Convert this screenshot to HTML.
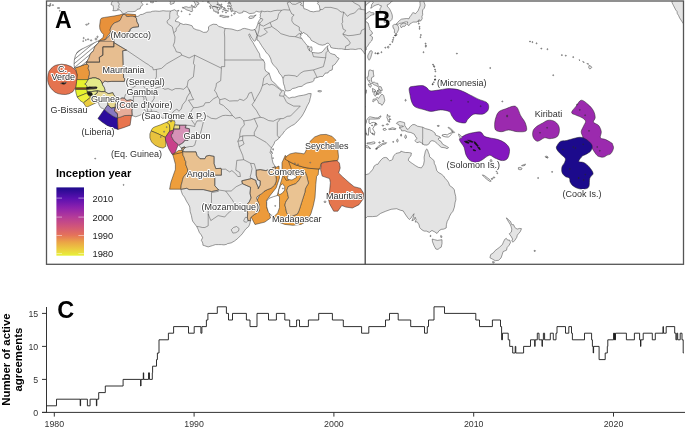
<!DOCTYPE html>
<html><head><meta charset="utf-8"><style>
html,body{margin:0;padding:0;background:#fff;}
body{-webkit-font-smoothing:antialiased;width:685px;height:429px;overflow:hidden;position:relative;font-family:"Liberation Sans",sans-serif;}
svg{position:absolute;left:0;top:0;will-change:transform;}
text{opacity:0.995;}
.lbl{font-family:"Liberation Sans",sans-serif;font-size:9px;fill:#303030;paint-order:stroke;stroke:#fff;stroke-width:2px;stroke-linejoin:round;}
</style></head><body>
<svg width="685" height="429" viewBox="0 0 685 429">
<defs>
<pattern id="hatch" patternUnits="userSpaceOnUse" width="3.2" height="3.2" patternTransform="rotate(-40)"><rect width="3.2" height="3.2" fill="#fff"/><line x1="0" y1="0.3" x2="3.2" y2="0.3" stroke="#333" stroke-width="0.5"/></pattern>
<clipPath id="cA"><rect x="46.5" y="1" width="318.7" height="263.3"/></clipPath>
<clipPath id="cB"><rect x="365.2" y="1" width="318.1" height="263.3"/></clipPath>
</defs>

<g clip-path="url(#cA)">
<g stroke="#222" stroke-width="0.5" stroke-linejoin="round">
<path d="M123.0,13.9 L119.3,15.0 L114.1,16.0 L104.6,17.4 L101.5,18.1 L100.4,19.7 L99.6,26.0 L99.9,29.1 L101.5,32.3 L103.6,34.4 L103.1,37.5 L100.4,39.6 L98.1,41.2 L104.0,41.0 L112.0,30.0 L125.0,15.0Z" fill="#e8913a"/>
<path d="M123.0,13.9 L128.0,13.9 L135.6,14.6 L136.0,17.0 L123.0,17.0Z" fill="#e8913a"/>
<path d="M74.5,68.1 L75.7,68.9 L77.1,74.9 L76.6,79.6 L92.0,79.6 L92.0,63.0 L88.0,63.3 L80.6,66.0Z" fill="#ea983c"/>
<path d="M76.6,79.6 L92.0,79.6 L92.0,87.9 L75.6,87.9 L76.2,83.0Z" fill="#e6f22e"/>
<path d="M75.5,87.9 L92.0,87.9 L92.0,89.5 L75.5,89.5Z" fill="#8f4f1f"/>
<path d="M75.5,89.5 L92.0,89.5 L88.4,92.5 L77.2,97.0 L76.0,93.0Z" fill="#e6f22e"/>
<path d="M77.2,97.0 L88.4,92.5 L95.0,93.0 L90.5,97.3 L83.5,102.8 L80.0,100.5Z" fill="#eef03a"/>
<path d="M83.5,102.8 L90.5,97.3 L99.0,99.0 L98.7,101.6 L86.5,107.3 L84.8,105.0Z" fill="#eacb3e"/>
<path d="M104.4,109.3 L97.9,118.6 L102.0,122.0 L106.8,125.2 L112.0,127.5 L118.0,129.4 L117.5,117.7 L110.0,112.0Z" fill="#2b0c9c"/>
<path d="M117.5,117.7 L118.0,129.4 L124.0,127.5 L130.1,125.2 L131.5,115.4 L124.0,114.0Z" fill="#e8744e"/>
<path d="M61.7,64.2 L66.5,64.8 L71.1,66.5 L75.7,70.3 L77.1,74.9 L76.6,81.5 L75.7,87.1 L72.9,91.7 L69.0,93.8 L65.5,94.5 L61.5,94.3 L58.0,93.6 L55.0,92.2 L52.4,89.9 L50.2,87.3 L48.7,84.3 L47.8,81.0 L47.7,77.7 L48.2,74.2 L49.1,71.2 L51.0,68.6 L53.3,66.5 L55.6,65.3 L58.0,64.7Z" fill="#e5734f"/>
<path d="M154.0,127.2 L157.2,126.0 L160.5,124.8 L164.2,123.2 L166.9,122.2 L169.5,124.8 L169.9,128.9 L169.5,131.3 L165.4,137.4 L158.1,133.8 L151.1,130.9 L152.3,128.5Z" fill="#f0d43a"/>
<path d="M151.1,130.9 L149.9,133.8 L149.9,137.9 L151.5,141.9 L154.8,145.2 L158.9,147.2 L163.0,148.1 L165.8,146.4 L165.8,141.9 L165.4,137.4 L158.1,133.8Z" fill="#e8c23e"/>
<path d="M166.9,122.2 L169.5,120.3 L171.9,119.5 L173.2,120.7 L176.0,121.0 L176.0,129.0 L173.2,130.1 L171.1,130.9 L169.5,131.3 L169.9,128.9 L169.5,124.8Z" fill="#f0d53a"/>
<path d="M169.5,131.3 L171.1,130.9 L173.2,130.1 L176.0,130.0 L180.0,140.0 L178.5,143.8 L175.0,153.1 L172.0,154.3 L168.6,148.5 L165.6,140.3 L165.4,137.4Z" fill="#c9408a"/>
<path d="M172.6,154.3 L175.0,153.1 L178.5,150.5 L183.7,150.1 L183.7,153.0 L172.8,155.0Z" fill="#ee9e3c"/>
<path d="M172.8,154.6 L183.7,152.1 L187.0,153.0 L188.0,170.0 L185.0,189.2 L169.6,189.2 L170.9,182.2 L175.4,169.4 L175.4,164.2Z" fill="#ee9e3c"/>
<path d="M284.9,159.1 L290.0,162.0 L296.0,165.0 L304.1,167.3 L309.9,168.4 L319.8,169.0 L319.0,164.9 L318.2,174.7 L316.6,176.3 L315.8,184.5 L315.0,197.5 L313.3,205.7 L310.9,213.8 L306.8,221.2 L301.1,224.4 L292.9,225.3 L284.8,224.4 L278.3,222.0 L275.0,220.4 L272.0,215.0 L276.0,200.0 L280.0,185.0 L283.0,175.0 L283.0,165.0Z" fill="#f0a23f"/>
<path d="M279.5,178.0 L276.2,187.8 L269.7,196.0 L266.4,200.8 L267.3,209.0 L269.7,213.9 L270.5,218.0 L264.8,222.1 L255.0,224.5 L250.0,215.0 L262.0,190.0 L270.0,170.0 L279.0,166.0Z" fill="#ec9a3a"/>
<path d="M285.3,155.3 L282.0,162.7 L282.0,170.0 L283.4,175.8 L286.2,180.4 L289.0,180.0 L292.0,176.0 L291.0,168.0 L288.0,160.0Z" fill="#e99a40"/>
<path d="M284.9,159.1 L286.6,156.2 L290.1,153.9 L295.4,152.7 L300.6,153.3 L304.1,153.9 L305.9,151.0 L307.0,146.3 L309.9,141.6 L314.6,137.0 L320.4,134.7 L326.2,134.4 L332.1,136.4 L335.6,139.9 L337.3,145.1 L337.9,151.0 L338.5,156.8 L337.9,160.3 L330.9,161.4 L323.9,162.0 L321.0,163.8 L319.8,169.0 L309.9,168.4 L304.1,167.3 L296.0,165.0 L290.0,162.0Z" fill="#eb9b3d"/>
<path d="M321.4,163.1 L329.6,161.4 L336.9,160.6 L339.4,163.1 L340.2,168.0 L338.6,172.9 L342.7,176.9 L349.2,182.7 L354.1,186.7 L360.6,188.4 L363.6,193.3 L363.1,199.0 L359.0,204.7 L352.4,208.0 L345.9,207.1 L341.8,205.5 L337.8,211.2 L333.7,211.2 L329.6,203.9 L328.0,197.3 L329.6,190.8 L330.4,182.7 L329.6,178.6 L322.2,176.1 L320.6,169.6Z" fill="#e5764e"/>
<path d="M97.4,41.3 L92.2,43.9 L85.9,47.1 L80.6,49.7 L77.5,51.8 L75.4,55.5 L74.3,60.2 L74.1,64.4 L74.5,68.1 L80.6,66.0 L88.0,63.3 L95,60 L101,42Z" fill="url(#hatch)"/>
<path d="M282.4,183.7 L284.7,186.6 L284.7,190.1 L282.4,193.1 L279.5,194.8 L278.3,193.1 L278.9,189.6 L280.6,185.5Z" fill="#fff"/>
<path d="M277.7,195.4 L279.5,196.6 L279.5,201.8 L279.5,207.6 L277.7,212.9 L274.8,215.8 L271.3,215.2 L268.4,212.3 L266.7,206.5 L266.7,201.2 L269.0,198.3 L273.7,196.6Z" fill="#fff"/>
<path d="M287.0,176.5 L291.0,174.8 L296.0,175.0 L296.5,177.5 L292.0,180.0 L288.0,179.5Z" fill="#fff"/>
</g>
<g fill="#e4e4e4" stroke="#3a3a3a" stroke-width="0.5" stroke-linejoin="round">
<path d="M123.0,14.6 L125.0,14.3 L126.3,16.3 L127.9,16.6 L130.6,16.3 L132.9,16.3 L135.2,16.9 L138.1,16.3 L140.4,14.6 L142.7,14.3 L146.7,12.3 L150.6,12.0 L152.3,11.3 L155.6,11.0 L159.2,11.3 L163.1,10.7 L166.1,11.0 L168.1,11.0 L170.7,11.0 L174.6,9.7 L176.3,11.0 L178.9,10.3 L177.3,12.6 L177.3,14.6 L178.9,16.6 L177.6,18.2 L175.6,19.9 L175.6,21.5 L178.3,21.9 L180.2,23.2 L183.5,24.5 L185.8,24.2 L189.1,24.8 L192.1,25.8 L193.4,28.4 L196.7,29.8 L199.6,30.4 L203.6,32.4 L206.9,32.1 L208.5,29.8 L208.5,26.8 L210.2,25.5 L213.1,24.2 L216.8,24.5 L218.7,26.5 L221.4,27.1 L224.7,28.4 L229.6,28.8 L231.9,29.1 L236.2,30.4 L237.8,30.7 L240.8,29.8 L242.4,28.8 L244.4,28.4 L246.4,28.8 L248.7,29.4 L251.0,30.1 L252.9,30.1 L254.9,29.4 L255.9,31.7 L257.2,35.3 L256.2,38.3 L255.6,40.3 L254.9,41.3 L253.6,40.6 L252.6,39.0 L251.0,37.0 L250.0,34.4 L249.3,33.9 L248.7,35.0 L249.7,37.0 L250.6,39.0 L252.9,42.3 L254.3,44.9 L256.2,48.2 L257.6,50.8 L259.5,53.8 L260.2,57.7 L263.8,60.7 L264.8,63.3 L264.8,68.9 L265.8,71.2 L269.1,73.2 L270.4,77.1 L271.4,80.1 L272.4,81.4 L274.7,83.1 L277.0,85.7 L279.6,88.3 L281.6,90.0 L284.2,90.9 L284.9,91.6 L284.2,94.2 L285.8,95.2 L287.8,97.5 L289.1,98.2 L292.1,97.2 L294.7,97.2 L298.7,95.9 L301.0,95.6 L303.3,95.2 L305.9,94.6 L308.5,93.6 L311.2,93.6 L310.5,97.5 L310.2,98.2 L309.5,101.5 L308.2,104.1 L307.2,105.8 L305.3,110.0 L303.6,113.3 L302.0,116.0 L299.7,118.9 L297.0,121.9 L294.1,124.5 L291.4,125.8 L288.8,127.5 L287.2,128.5 L284.5,131.1 L282.6,134.0 L280.6,136.0 L279.3,138.0 L277.0,140.0 L274.7,141.6 L274.3,143.3 L273.0,145.6 L271.4,147.9 L270.1,152.5 L271.7,154.8 L271.7,157.4 L272.0,158.7 L273.0,163.0 L275.3,166.6 L275.6,169.2 L276.0,171.9 L275.6,174.8 L276.3,179.4 L276.0,181.8 L274.7,185.0 L272.4,187.0 L271.0,188.3 L267.4,189.6 L264.1,191.3 L261.5,193.9 L259.5,194.9 L256.9,196.9 L256.6,198.5 L257.9,201.5 L258.9,204.1 L259.2,205.4 L259.2,209.4 L258.9,211.4 L256.2,213.3 L252.9,215.6 L250.6,217.6 L250.3,218.9 L250.6,220.6 L249.7,224.2 L248.7,226.5 L246.0,228.8 L244.4,230.8 L242.4,233.7 L240.8,235.4 L237.5,238.7 L234.5,241.0 L231.2,242.9 L227.6,243.6 L226.6,244.3 L224.0,244.9 L221.4,244.6 L218.7,244.6 L215.4,244.6 L212.5,245.6 L208.2,246.9 L205.9,246.2 L204.3,245.6 L202.9,245.2 L202.9,243.9 L202.3,242.0 L201.3,240.3 L202.6,237.7 L201.3,235.0 L199.3,232.4 L198.0,229.1 L196.7,226.5 L194.7,223.9 L192.7,221.2 L192.1,219.3 L191.4,215.6 L190.1,211.4 L189.8,207.7 L189.4,206.1 L188.1,203.8 L186.5,201.2 L184.5,197.2 L182.5,194.6 L181.2,191.0 L180.9,189.0 L181.2,185.0 L182.2,181.8 L182.5,179.8 L183.5,177.1 L184.8,175.2 L187.1,172.9 L187.8,170.9 L187.5,168.9 L186.8,167.3 L185.8,164.6 L185.8,161.4 L184.8,160.0 L184.2,157.4 L182.9,155.1 L182.9,152.5 L182.5,151.5 L181.9,149.2 L181.2,148.2 L178.9,145.2 L176.9,143.3 L174.0,141.0 L172.7,138.7 L171.4,136.3 L171.4,134.7 L173.0,133.4 L173.0,132.4 L173.7,130.8 L173.7,129.1 L174.6,124.8 L175.0,122.5 L174.3,120.6 L174.0,119.6 L172.0,118.9 L170.4,117.6 L168.7,117.6 L165.4,117.9 L162.1,118.3 L160.5,116.3 L158.8,113.3 L157.2,111.7 L153.6,111.3 L149.0,111.7 L146.3,112.3 L144.4,113.3 L142.4,114.0 L139.1,115.6 L135.8,116.8 L132.2,115.6 L129.2,115.3 L124.3,115.6 L121.0,116.9 L117.7,117.9 L115.4,117.3 L112.8,116.0 L109.8,114.0 L106.9,111.7 L104.6,109.7 L102.6,108.4 L101.3,108.1 L100.0,106.4 L99.0,104.8 L98.6,102.8 L98.6,101.1 L97.3,100.2 L96.3,99.8 L95.0,98.5 L94.0,97.2 L93.1,96.2 L92.1,95.6 L91.1,94.2 L89.4,94.2 L88.1,91.9 L87.1,91.3 L87.1,88.3 L87.1,86.3 L85.8,84.4 L84.8,84.0 L86.1,83.1 L88.1,79.8 L88.8,76.8 L89.4,74.8 L89.4,71.5 L88.1,68.2 L88.8,65.9 L87.8,64.6 L86.3,64.0 L86.8,62.3 L87.1,61.3 L88.1,59.4 L88.8,58.4 L89.8,55.4 L90.4,54.1 L91.7,52.1 L93.1,51.5 L93.7,49.8 L94.7,47.2 L95.0,46.2 L97.0,44.6 L98.3,42.9 L100.0,40.6 L102.9,40.3 L104.9,40.0 L107.2,38.3 L108.8,36.3 L110.2,34.7 L110.8,32.4 L110.2,30.4 L110.2,29.1 L111.8,25.5 L113.4,24.2 L114.4,22.8 L117.4,21.9 L120.0,20.5 L121.0,18.6 L122.0,16.3 L123.0,14.6Z"/>
<path d="M304.6,171.7 L305.6,173.2 L306.6,175.5 L307.6,179.8 L308.5,183.1 L307.6,184.7 L305.9,187.7 L305.3,189.3 L304.9,192.3 L303.0,198.2 L301.6,202.5 L300.3,206.8 L299.0,210.7 L297.4,214.0 L294.4,215.3 L291.1,216.6 L288.1,215.0 L286.5,212.3 L285.8,208.7 L284.9,205.1 L285.5,202.5 L286.8,200.2 L288.5,197.9 L287.8,194.6 L286.8,190.3 L288.1,186.7 L290.1,185.7 L293.7,184.4 L295.7,183.7 L297.7,181.8 L299.3,179.8 L300.3,177.8 L301.3,176.5 L303.0,173.9 L304.6,171.7Z"/>
<path d="M112.8,-5.8 L113.4,-2.5 L112.8,0.8 L111.5,2.8 L111.1,4.7 L112.5,5.1 L113.1,5.7 L113.4,7.4 L113.4,9.4 L112.8,10.7 L116.1,10.7 L118.1,10.0 L119.7,10.0 L121.3,11.3 L122.0,12.6 L122.7,13.3 L124.0,14.0 L125.0,13.3 L127.9,11.7 L130.9,11.7 L132.9,11.7 L135.5,11.3 L137.1,9.4 L140.1,8.7 L140.8,6.4 L143.1,4.7 L142.1,3.4 L141.4,2.4 L142.4,0.8 L144.0,-0.8 L145.4,-1.8 L147.3,-3.1 L150.6,-5.1 L152.9,-5.8 L152.9,-12.4 L112.8,-12.4Z"/>
<path d="M150.1,2.1 L151.3,1.1 L152.9,1.0 L153.8,1.8 L153.1,2.9 L151.4,2.6 L150.1,2.1Z"/>
<path d="M146.3,4.3 L147.3,3.8 L147.7,4.3 L147.0,4.6 L146.3,4.3Z"/>
<path d="M154.9,0.8 L156.5,1.3 L156.2,1.0 L154.9,0.6Z"/>
<path d="M170.0,-2.5 L169.4,-1.2 L170.4,-0.2 L170.0,1.1 L170.4,2.8 L170.0,3.8 L170.7,4.4 L172.0,4.1 L173.0,3.4 L174.0,3.4 L174.3,2.1 L174.3,0.5 L174.6,-0.8 L174.0,-2.5 L172.7,-3.5Z"/>
<path d="M183.2,8.0 L184.2,7.1 L186.2,6.7 L188.5,7.4 L190.1,7.2 L192.1,6.7 L193.7,6.4 L192.7,7.7 L192.1,9.0 L192.7,10.3 L192.1,11.7 L190.1,11.3 L189.4,10.7 L186.8,10.0 L184.8,8.7 L183.2,8.0Z"/>
<path d="M190.1,-5.8 L188.5,-3.8 L187.5,-3.1 L188.8,-1.8 L190.1,-1.2 L191.4,-0.2 L192.7,0.8 L194.1,1.1 L194.4,2.1 L195.4,4.1 L195.4,5.1 L194.7,5.7 L193.7,7.4 L195.4,7.7 L197.0,6.1 L197.0,4.7 L199.0,4.1 L198.7,2.8 L196.7,1.8 L197.0,0.5 L198.3,-0.8 L200.0,-0.2 L201.6,0.1 L202.9,1.5 L203.3,0.5 L201.6,-1.2 L198.3,-2.8 L195.0,-4.1 L195.0,-5.8Z"/>
<path d="M205.9,-5.8 L206.2,-3.8 L206.2,-1.8 L205.9,-0.5 L208.2,1.8 L209.2,3.1 L210.5,4.4 L211.8,6.1 L212.8,6.7 L213.8,6.4 L216.1,7.1 L218.1,7.7 L216.8,8.7 L218.7,9.7 L218.1,11.3 L218.7,12.6 L217.4,12.3 L216.4,11.7 L216.1,12.6 L215.1,11.0 L213.8,11.3 L213.5,9.7 L212.5,8.4 L211.8,7.7 L213.1,6.7 L214.5,6.4 L217.4,7.4 L218.7,7.4 L221.4,8.4 L221.4,6.7 L220.0,5.7 L218.7,4.7 L216.8,4.4 L218.1,3.1 L217.4,1.5 L216.8,-0.2 L217.7,-1.2 L219.7,-0.2 L221.4,0.1 L223.0,-2.2 L227.9,-1.8 L229.9,-2.5 L229.9,-5.8Z"/>
<path d="M217.4,4.4 L219.4,5.4 L221.7,6.7 L223.3,7.5 L222.3,6.4 L220.0,4.7 L218.7,3.9 L217.4,4.4Z"/>
<path d="M219.7,16.3 L220.0,15.3 L222.0,15.3 L224.3,15.9 L226.3,16.3 L228.9,16.3 L228.6,17.2 L226.3,17.2 L223.7,17.6 L221.4,16.6 L219.7,16.3Z"/>
<path d="M248.7,17.2 L250.6,15.9 L253.3,16.1 L256.2,14.9 L254.3,16.9 L253.9,17.6 L251.0,18.6 L249.0,18.2 L248.7,17.2Z"/>
<path d="M233.5,13.5 L235.2,12.5 L235.3,13.6 L233.9,14.3 L233.5,13.5Z"/>
<path d="M228.6,-5.8 L228.6,-0.2 L229.9,0.5 L228.6,2.4 L230.6,2.8 L230.6,4.4 L231.6,6.1 L229.3,6.4 L228.9,5.4 L230.6,6.7 L232.2,8.7 L232.2,10.7 L234.5,11.3 L236.5,11.7 L238.5,13.0 L239.8,13.3 L242.7,12.6 L243.1,11.0 L246.0,11.7 L249.3,13.6 L252.6,13.3 L254.3,13.0 L256.2,11.3 L259.2,12.0 L261.5,11.7 L260.8,13.0 L260.2,14.6 L260.5,16.3 L259.9,17.6 L260.5,18.6 L259.5,19.9 L258.2,22.2 L257.9,23.8 L257.2,25.5 L256.6,27.1 L255.9,28.4 L254.9,29.4 L255.9,31.7 L257.2,35.3 L257.6,35.3 L257.2,37.0 L256.9,40.0 L258.5,40.6 L259.5,42.3 L261.5,45.5 L262.8,47.5 L264.8,50.2 L266.1,52.5 L268.7,54.8 L270.4,58.0 L271.0,59.7 L271.4,61.7 L272.7,64.0 L274.0,65.6 L276.3,67.9 L277.9,70.2 L279.3,73.2 L281.6,75.8 L282.9,78.4 L283.2,81.1 L283.5,83.7 L284.5,86.3 L284.9,88.6 L285.5,90.6 L287.8,90.9 L290.5,90.3 L292.4,88.6 L295.4,88.0 L298.7,86.7 L302.0,86.3 L303.9,84.7 L306.9,83.1 L310.2,82.4 L312.5,81.7 L314.1,80.4 L314.1,78.4 L317.1,77.5 L320.1,76.5 L322.7,76.5 L324.3,74.5 L325.0,73.2 L328.0,72.9 L329.3,70.9 L332.2,69.9 L332.6,67.3 L332.6,65.6 L334.2,65.0 L336.2,62.7 L337.8,60.3 L339.1,58.4 L336.8,57.1 L335.2,54.8 L332.6,54.1 L330.6,53.4 L328.9,51.8 L327.6,49.2 L327.6,46.9 L328.0,45.5 L327.0,46.5 L325.0,48.5 L323.7,50.2 L322.0,52.1 L320.1,52.8 L318.1,53.1 L315.5,52.8 L312.2,52.5 L311.5,51.5 L312.2,49.5 L311.8,47.2 L310.8,46.5 L309.5,48.5 L309.5,50.8 L308.5,49.5 L307.6,47.5 L307.2,45.5 L305.6,43.6 L304.3,41.9 L303.0,40.3 L301.6,38.3 L300.3,36.7 L301.0,35.3 L300.0,34.0 L302.0,34.0 L303.3,32.4 L305.3,33.7 L307.6,35.0 L307.9,36.3 L309.9,37.6 L311.2,40.3 L312.2,40.9 L315.1,42.3 L317.8,43.9 L319.4,44.6 L322.4,45.2 L325.0,44.6 L327.0,43.2 L328.3,43.2 L329.9,44.9 L330.9,47.5 L333.2,48.2 L336.2,48.5 L338.5,48.8 L341.4,48.8 L345.1,49.5 L348.0,49.5 L350.7,49.2 L353.0,49.2 L355.3,49.5 L358.6,48.8 L361.2,48.8 L361.8,50.2 L362.8,50.8 L363.8,52.5 L364.5,53.8 L366.8,54.4 L369.4,56.7 L372.7,60.0 L372.7,-5.8Z"/>
<path d="M317.8,90.9 L318.7,90.6 L320.4,90.6 L321.7,91.1 L320.7,91.8 L319.1,91.9 L317.8,91.3Z"/>
<path d="M170.2,120.1 L171.8,120.2 L171.8,121.5 L170.7,121.9 L170.2,120.9Z"/>
<path d="M271.4,151.3 L271.9,151.5 L272.5,153.5 L272.2,153.6 L271.4,152.5Z"/>
<path d="M272.8,148.5 L273.5,148.8 L273.2,150.3 L272.7,149.8Z"/>
<path d="M304.9,-2.5 L303.6,0.8 L303.3,6.1 L303.9,8.7 L305.3,9.0 L307.9,10.0 L310.2,11.3 L313.5,11.8 L316.8,11.2 L319.7,11.0 L320.1,9.7 L319.7,8.0 L319.4,5.7 L317.4,3.4 L318.4,2.1 L316.8,0.8 L316.1,-2.5Z" fill="#fff"/>
<ellipse cx="228.9" cy="3.4" rx="1.0" ry="0.7"/>
<ellipse cx="227.9" cy="6.1" rx="0.5" ry="0.7"/>
<ellipse cx="230.6" cy="8.4" rx="0.7" ry="0.5"/>
<ellipse cx="218.1" cy="13.1" rx="0.5" ry="0.5"/>
<ellipse cx="231.7" cy="15.3" rx="0.5" ry="0.5"/>
<ellipse cx="226.3" cy="10.5" rx="0.5" ry="0.5"/>
<ellipse cx="224.2" cy="7.9" rx="0.5" ry="0.5"/>
<ellipse cx="225.1" cy="10.5" rx="0.5" ry="0.5"/>
<ellipse cx="222.7" cy="11.7" rx="0.5" ry="0.5"/>
<ellipse cx="226.0" cy="12.6" rx="0.5" ry="0.5"/>
<ellipse cx="231.6" cy="11.2" rx="0.7" ry="0.5"/>
<ellipse cx="228.3" cy="8.7" rx="0.5" ry="0.5"/>
<ellipse cx="225.0" cy="8.9" rx="0.5" ry="0.5"/>
<ellipse cx="223.3" cy="9.4" rx="0.5" ry="0.5"/>
<ellipse cx="227.9" cy="11.0" rx="0.5" ry="0.5"/>
<ellipse cx="230.6" cy="9.7" rx="0.5" ry="0.5"/>
<ellipse cx="225.8" cy="1.1" rx="0.5" ry="0.5"/>
<ellipse cx="221.4" cy="4.4" rx="0.5" ry="0.5"/>
<ellipse cx="219.7" cy="9.0" rx="0.5" ry="0.5"/>
<ellipse cx="210.2" cy="6.4" rx="0.7" ry="0.7"/>
<ellipse cx="208.2" cy="2.1" rx="0.7" ry="1.0"/>
<ellipse cx="210.5" cy="8.0" rx="0.5" ry="0.5"/>
<ellipse cx="171.0" cy="-2.2" rx="1.0" ry="1.0"/>
<ellipse cx="191.8" cy="5.4" rx="0.5" ry="0.5"/>
<ellipse cx="182.9" cy="7.7" rx="0.5" ry="0.5"/>
<ellipse cx="181.6" cy="11.3" rx="0.5" ry="0.5"/>
<ellipse cx="59.8" cy="76.3" rx="0.7" ry="0.5"/>
<ellipse cx="60.3" cy="77.0" rx="0.5" ry="0.5"/>
<ellipse cx="62.6" cy="77.8" rx="0.7" ry="0.5"/>
<ellipse cx="66.9" cy="77.5" rx="0.5" ry="0.5"/>
<ellipse cx="67.4" cy="79.4" rx="0.5" ry="0.5"/>
<ellipse cx="66.1" cy="82.4" rx="0.5" ry="0.5"/>
<ellipse cx="64.8" cy="82.7" rx="0.5" ry="0.7"/>
<ellipse cx="62.1" cy="83.2" rx="0.5" ry="0.5"/>
<ellipse cx="61.1" cy="83.5" rx="0.5" ry="0.5"/>
<ellipse cx="88.1" cy="39.3" rx="0.8" ry="0.5"/>
<ellipse cx="91.1" cy="40.4" rx="0.7" ry="0.7"/>
<ellipse cx="96.0" cy="39.0" rx="1.0" ry="1.0"/>
<ellipse cx="97.5" cy="36.8" rx="0.7" ry="0.7"/>
<ellipse cx="83.7" cy="38.1" rx="0.5" ry="0.7"/>
<ellipse cx="85.8" cy="40.0" rx="0.5" ry="0.5"/>
<ellipse cx="83.2" cy="41.1" rx="0.5" ry="0.5"/>
<ellipse cx="86.6" cy="24.7" rx="1.0" ry="0.5"/>
<ellipse cx="88.6" cy="23.7" rx="0.5" ry="0.5"/>
<ellipse cx="58.5" cy="8.0" rx="1.3" ry="0.5"/>
<ellipse cx="52.9" cy="5.1" rx="0.7" ry="0.5"/>
<ellipse cx="49.5" cy="5.9" rx="0.8" ry="0.5"/>
<ellipse cx="48.0" cy="5.5" rx="0.5" ry="0.5"/>
<ellipse cx="50.1" cy="5.2" rx="1.0" ry="0.5"/>
<ellipse cx="50.4" cy="3.9" rx="0.5" ry="0.5"/>
<ellipse cx="59.8" cy="10.8" rx="0.5" ry="0.5"/>
<ellipse cx="164.1" cy="131.7" rx="0.5" ry="0.7"/>
<ellipse cx="166.7" cy="127.1" rx="0.5" ry="0.5"/>
<ellipse cx="160.8" cy="137.0" rx="0.5" ry="0.5"/>
<ellipse cx="285.0" cy="170.7" rx="0.5" ry="0.9"/>
<ellipse cx="286.5" cy="172.9" rx="0.5" ry="0.5"/>
<ellipse cx="288.5" cy="172.5" rx="0.5" ry="0.5"/>
<ellipse cx="290.9" cy="174.5" rx="0.5" ry="0.5"/>
<ellipse cx="331.7" cy="199.0" rx="0.7" ry="0.8"/>
<ellipse cx="325.0" cy="201.8" rx="1.0" ry="0.8"/>
<ellipse cx="351.0" cy="197.2" rx="0.5" ry="0.5"/>
<ellipse cx="324.8" cy="147.7" rx="0.5" ry="0.5"/>
<ellipse cx="325.7" cy="146.6" rx="0.5" ry="0.5"/>
<ellipse cx="294.9" cy="163.3" rx="0.5" ry="0.5"/>
<ellipse cx="316.8" cy="149.5" rx="0.5" ry="0.5"/>
<ellipse cx="298.0" cy="164.3" rx="0.5" ry="0.5"/>
<ellipse cx="310.2" cy="162.7" rx="0.5" ry="0.5"/>
<ellipse cx="123.6" cy="184.9" rx="0.5" ry="0.5"/>
<ellipse cx="95.2" cy="158.6" rx="0.5" ry="0.5"/>
<ellipse cx="101.9" cy="254.5" rx="0.5" ry="0.5"/>
<ellipse cx="282.9" cy="188.5" rx="0.5" ry="0.5"/>
<ellipse cx="275.2" cy="205.9" rx="0.5" ry="0.5"/>
<ellipse cx="273.0" cy="158.1" rx="0.5" ry="0.5"/>
<ellipse cx="308.7" cy="46.7" rx="0.5" ry="0.5"/>
<ellipse cx="189.8" cy="14.3" rx="0.5" ry="0.5"/>
<ellipse cx="89.8" cy="95.6" rx="1.2" ry="0.8"/>
</g>
<g stroke="#333" stroke-width="0.5" stroke-linejoin="round">
<path d="M86.8,62.3 L87.1,61.3 L88.1,59.4 L88.8,58.4 L89.8,55.4 L90.4,54.1 L91.7,52.1 L93.1,51.5 L93.7,49.8 L94.7,47.2 L95.0,46.2 L97.0,44.6 L98.3,42.9 L100.0,40.6 L102.9,40.3 L104.9,40.0 L107.2,38.3 L108.8,36.3 L110.2,34.7 L110.8,32.4 L110.2,30.4 L110.2,29.1 L111.8,25.5 L113.4,24.2 L114.4,22.8 L117.4,21.9 L120.0,20.5 L121.0,18.6 L122.0,16.3 L123.0,14.6 L125.0,14.3 L126.3,16.3 L127.9,16.6 L130.6,16.3 L132.9,16.3 L135.2,16.9 L135.2,16.9 L136.5,18.6 L136.8,21.5 L138.5,24.8 L138.5,26.8 L132.9,27.4 L130.2,29.1 L129.9,31.1 L125.3,33.7 L121.3,35.0 L117.7,35.7 L113.8,38.0 L113.9,41.4 L113.9,41.4 L113.9,42.6 L113.9,42.6 L113.9,46.9 L102.9,46.9 L102.9,55.2 L99.3,57.4 L99.6,62.2 L86.6,62.2Z" fill="#e6ba8f"/>
<path d="M88.1,79.8 L88.8,76.8 L89.4,74.8 L89.4,71.5 L88.1,68.2 L88.8,65.9 L87.8,64.6 L86.3,64.0 L86.8,62.3 L86.6,62.2 L99.6,62.2 L99.3,57.4 L102.9,55.2 L102.9,46.9 L113.9,46.9 L113.9,42.6 L113.9,42.6 L126.6,50.2 L126.6,50.2 L122.7,50.8 L123.6,77.8 L124.8,78.8 L124.3,81.4 L111.8,81.4 L107.2,81.7 L104.9,81.1 L103.9,81.7 L102.3,83.7 L102.3,83.7 L101.3,81.4 L99.6,79.4 L97.0,78.4 L95.4,77.8 L92.7,77.8 L91.1,78.4 L89.8,78.4 L88.1,79.6Z" fill="#e7be90"/>
<path d="M87.1,91.3 L87.1,88.3 L87.1,86.3 L85.8,84.4 L84.8,84.0 L86.1,83.1 L88.1,79.8 L88.1,79.6 L89.8,78.4 L91.1,78.4 L92.7,77.8 L95.4,77.8 L97.0,78.4 L99.6,79.4 L101.3,81.4 L102.3,83.7 L102.3,83.7 L102.6,85.0 L104.2,87.3 L104.9,89.6 L104.9,91.6 L104.9,91.6 L101.3,91.6 L97.3,90.8 L97.3,90.8 L91.4,91.6 L87.5,91.8Z" fill="#e5eb89"/>
<path d="M87.1,87.7 L93.1,87.0 L96.3,87.0 L97.0,88.0 L96.3,88.6 L91.4,89.0 L87.5,89.3Z" fill="#ba9a82"/>
<path d="M93.1,96.2 L92.1,95.6 L91.1,94.2 L89.4,94.2 L88.1,91.9 L87.1,91.3 L87.5,91.8 L91.4,91.6 L97.3,90.8 L97.3,90.8 L97.3,92.9 L96.0,93.9 L93.1,96.5Z" fill="#e9ea8f"/>
<path d="M98.6,102.8 L98.6,101.1 L97.3,100.2 L96.3,99.8 L95.0,98.5 L94.0,97.2 L93.1,96.2 L96.0,93.9 L97.3,92.9 L97.3,90.8 L97.3,90.8 L101.3,91.6 L104.9,91.6 L104.9,91.6 L106.2,92.3 L107.5,93.2 L108.8,93.6 L112.8,92.6 L113.8,94.9 L115.1,96.2 L116.1,98.8 L116.1,98.8 L116.4,104.4 L115.4,104.4 L115.4,107.4 L115.4,107.4 L114.4,107.4 L111.1,108.1 L107.9,104.8 L107.9,104.8 L107.5,101.8 L105.6,99.5 L101.3,99.8 L98.6,102.6Z" fill="#e7d891"/>
<path d="M117.7,117.9 L115.4,117.3 L112.8,116.0 L109.8,114.0 L106.9,111.7 L104.6,109.7 L104.6,109.7 L105.6,107.7 L107.9,104.8 L107.9,104.8 L111.1,108.1 L114.4,107.4 L115.4,107.4 L115.4,107.4 L114.4,111.0 L117.4,113.6 L117.7,117.9Z" fill="#8878c0"/>
<path d="M132.2,115.6 L129.2,115.3 L124.3,115.6 L121.0,116.9 L117.7,117.9 L117.7,117.9 L117.4,113.6 L114.4,111.0 L115.4,107.4 L115.4,107.4 L115.4,104.4 L116.4,104.4 L116.1,98.8 L116.1,98.8 L117.4,98.8 L119.7,99.2 L122.0,97.9 L124.3,98.2 L124.3,98.2 L126.9,100.5 L130.6,99.8 L133.2,100.8 L133.2,100.8 L134.2,105.4 L131.9,110.0 L132.2,115.6Z" fill="#e6ac99"/>
<path d="M173.7,129.1 L174.6,124.8 L174.6,124.8 L179.6,125.2 L179.6,125.2 L179.6,129.1 L173.2,129.1Z" fill="#eadc8f"/>
<path d="M178.9,145.2 L176.9,143.3 L174.0,141.0 L172.7,138.7 L171.4,136.3 L171.4,134.7 L173.0,133.4 L173.0,132.4 L173.7,130.8 L173.7,129.1 L173.2,129.1 L179.6,129.1 L179.6,125.2 L179.6,125.2 L186.2,125.2 L186.2,125.2 L185.2,127.8 L189.4,128.8 L189.4,134.0 L190.1,137.3 L188.1,140.3 L184.8,140.3 L183.5,142.3 L181.6,143.6 L178.9,145.2Z" fill="#d692b7"/>
<path d="M180.9,189.0 L181.2,185.0 L182.2,181.8 L182.5,179.8 L183.5,177.1 L184.8,175.2 L187.1,172.9 L187.8,170.9 L187.5,168.9 L186.8,167.3 L185.8,164.6 L185.8,161.4 L184.8,160.0 L184.2,157.4 L182.9,155.1 L182.9,152.5 L182.5,151.5 L182.5,151.5 L185.2,151.8 L196.0,151.8 L197.0,155.4 L200.0,158.7 L204.9,158.7 L206.2,156.1 L209.2,155.4 L214.1,156.4 L214.1,163.7 L215.8,168.6 L221.0,168.3 L221.4,169.2 L221.4,169.2 L221.4,175.2 L214.8,175.2 L214.8,185.7 L218.7,190.0 L218.7,190.0 L211.5,191.6 L203.3,189.6 L189.1,189.6 L186.8,188.3 L181.2,189.3Z" fill="#e9c190"/>
<path d="M181.9,148.8 L181.2,148.2 L183.2,147.2 L184.5,146.9 L185.5,147.5 L183.5,149.2 L182.9,151.3 L182.2,150.8Z" fill="#e9c190"/>
<path d="M275.3,166.6 L275.6,169.2 L276.0,171.9 L275.6,174.8 L276.3,179.4 L276.0,181.8 L274.7,185.0 L272.4,187.0 L271.0,188.3 L267.4,189.6 L264.1,191.3 L261.5,193.9 L259.5,194.9 L256.9,196.9 L256.6,198.5 L257.9,201.5 L258.9,204.1 L259.2,205.4 L259.2,209.4 L258.9,211.4 L256.2,213.3 L252.9,215.6 L250.6,217.6 L250.3,218.9 L250.6,220.6 L250.6,220.7 L248.0,220.6 L247.4,217.6 L247.7,213.0 L245.4,206.1 L245.4,206.1 L249.3,201.8 L251.0,197.9 L250.0,193.3 L250.6,187.3 L242.4,183.7 L242.4,183.7 L241.8,180.8 L251.6,178.5 L251.6,178.5 L255.9,180.4 L256.2,182.7 L258.5,188.0 L258.2,188.7 L260.2,185.0 L260.2,180.8 L257.6,179.8 L256.2,175.2 L256.2,170.2 L256.2,170.2 L260.2,169.6 L265.8,170.6 L269.1,169.6 L275.3,166.6Z" fill="#e8bf8f"/>
<path d="M304.6,171.7 L305.6,173.2 L306.6,175.5 L307.6,179.8 L308.5,183.1 L307.6,184.7 L305.9,187.7 L305.3,189.3 L304.9,192.3 L303.0,198.2 L301.6,202.5 L300.3,206.8 L299.0,210.7 L297.4,214.0 L294.4,215.3 L291.1,216.6 L288.1,215.0 L286.5,212.3 L285.8,208.7 L284.9,205.1 L285.5,202.5 L286.8,200.2 L288.5,197.9 L287.8,194.6 L286.8,190.3 L288.1,186.7 L290.1,185.7 L293.7,184.4 L295.7,183.7 L297.7,181.8 L299.3,179.8 L300.3,177.8 L301.3,176.5 L303.0,173.9 L304.6,171.7Z" fill="#eac392"/>
<path d="M170.2,120.1 L171.8,120.2 L171.8,121.5 L170.7,121.9 L170.2,120.9Z" fill="#eadc8f"/>
</g>
<g fill="none" stroke="#3a3a3a" stroke-width="0.45" stroke-linejoin="round">
<path d="M135.2,16.9 L136.5,18.6 L136.8,21.5 L138.5,24.8 L138.5,26.8 L132.9,27.4 L130.2,29.1 L129.9,31.1 L125.3,33.7 L121.3,35.0 L117.7,35.7 L113.8,38.0 L113.9,41.4"/>
<path d="M99.0,41.4 L113.9,41.4"/>
<path d="M113.9,41.4 L113.9,42.6"/>
<path d="M113.9,42.6 L113.9,46.9 L102.9,46.9 L102.9,55.2 L99.3,57.4 L99.6,62.2 L86.6,62.2"/>
<path d="M113.9,42.6 L126.6,50.2"/>
<path d="M126.6,50.2 L122.7,50.8 L123.6,77.8 L124.8,78.8 L124.3,81.4 L111.8,81.4 L107.2,81.7 L104.9,81.1 L103.9,81.7 L102.3,83.7"/>
<path d="M102.3,83.7 L101.3,81.4 L99.6,79.4 L97.0,78.4 L95.4,77.8 L92.7,77.8 L91.1,78.4 L89.8,78.4 L88.1,79.6"/>
<path d="M170.7,11.0 L170.0,12.3 L169.7,14.6 L169.7,18.6 L168.1,19.9 L167.1,21.2 L167.4,23.2 L169.0,24.5 L172.3,26.8 L173.7,32.7"/>
<path d="M173.7,32.7 L175.0,37.0 L174.6,41.9 L173.3,45.5 L175.3,49.2 L176.3,51.8 L180.6,52.8 L181.8,55.1"/>
<path d="M180.2,23.2 L178.9,25.8 L176.3,28.1 L176.0,31.1 L173.7,32.7"/>
<path d="M181.8,55.1 L166.7,63.8 L161.5,68.4 L156.4,69.4"/>
<path d="M156.4,69.4 L153.3,69.9 L152.6,67.3 L150.3,66.3 L148.3,64.6 L146.0,63.3 L126.6,50.2"/>
<path d="M225.1,28.4 L224.3,32.1 L224.7,37.0 L224.7,60.0"/>
<path d="M224.7,60.0 L224.7,66.6 L221.4,66.6 L221.4,68.2"/>
<path d="M221.4,68.2 L194.7,55.2"/>
<path d="M194.7,55.2 L189.1,58.0 L181.8,55.1"/>
<path d="M224.7,60.0 L263.8,60.0"/>
<path d="M156.4,69.4 L156.4,77.0 L154.2,81.1 L146.7,82.1 L143.7,83.2"/>
<path d="M143.7,83.2 L140.8,82.7 L137.5,84.7 L135.8,85.7 L132.2,88.0 L128.9,89.6 L128.3,90.6 L127.9,91.9 L125.3,94.9 L124.3,98.2"/>
<path d="M124.3,98.2 L122.0,97.9 L119.7,99.2 L117.4,98.8 L116.1,98.8"/>
<path d="M116.1,98.8 L115.1,96.2 L113.8,94.9 L112.8,92.6 L108.8,93.6 L107.5,93.2 L106.2,92.3 L104.9,91.6"/>
<path d="M104.9,91.6 L104.9,89.6 L104.2,87.3 L102.6,85.0 L102.3,83.7"/>
<path d="M194.7,55.2 L193.4,63.3 L194.7,65.3 L193.4,76.8 L188.1,80.7 L187.1,86.3"/>
<path d="M187.1,86.3 L183.5,89.3 L180.2,88.6 L175.3,88.6 L172.0,90.3 L168.1,88.6 L164.8,89.3 L160.5,86.7 L155.9,88.0 L154.2,93.9"/>
<path d="M154.2,93.9 L150.3,92.3"/>
<path d="M150.3,92.3 L149.3,91.6 L145.7,89.6 L145.4,88.6 L143.7,86.3 L143.1,84.4 L143.7,83.2"/>
<path d="M133.2,100.8 L133.5,98.2 L133.2,96.2 L140.1,96.2 L142.4,96.2"/>
<path d="M142.4,96.2 L145.4,96.2"/>
<path d="M145.4,96.2 L147.0,94.6 L150.3,93.2 L150.3,92.3"/>
<path d="M124.3,98.2 L126.9,100.5 L130.6,99.8 L133.2,100.8"/>
<path d="M133.2,100.8 L134.2,105.4 L131.9,110.0 L132.2,115.6"/>
<path d="M142.4,96.2 L144.0,97.9 L143.7,101.1 L144.0,105.1 L144.4,109.4 L146.3,112.3"/>
<path d="M145.4,96.2 L147.0,101.1 L147.7,112.0"/>
<path d="M154.2,93.9 L154.2,98.5 L151.3,102.8 L151.3,111.3"/>
<path d="M187.1,86.3 L188.8,89.3"/>
<path d="M188.8,89.3 L190.1,92.3 L187.1,96.9 L185.8,100.8 L182.5,104.8 L181.2,109.0 L178.9,111.3 L176.9,109.0 L174.0,111.0 L171.4,114.0 L170.4,117.6"/>
<path d="M188.8,89.3 L190.4,92.6 L192.1,96.9 L193.7,99.5 L188.5,100.2 L193.4,107.7"/>
<path d="M193.4,107.7 L197.7,107.4 L203.6,105.8 L205.2,102.8 L209.5,102.5 L213.5,98.8 L217.7,96.5"/>
<path d="M217.7,96.5 L216.1,92.3 L214.5,90.9 L215.4,88.3 L216.1,86.3 L216.4,83.4 L220.7,80.7 L221.4,68.2"/>
<path d="M193.4,107.7 L190.1,113.0 L190.4,117.3 L192.1,120.9 L195.0,124.8"/>
<path d="M195.0,124.8 L194.7,126.5 L189.8,125.5 L186.2,125.2"/>
<path d="M186.2,125.2 L179.6,125.2"/>
<path d="M179.6,125.2 L174.6,124.8"/>
<path d="M179.6,125.2 L179.6,129.1 L173.2,129.1"/>
<path d="M186.2,125.2 L185.2,127.8 L189.4,128.8 L189.4,134.0 L190.1,137.3 L188.1,140.3 L184.8,140.3 L183.5,142.3 L181.6,143.6 L178.9,145.2"/>
<path d="M203.6,120.9 L201.6,129.1 L200.3,134.0 L196.4,139.0 L194.7,145.2 L192.4,146.5 L189.8,146.5 L185.5,147.5 L183.2,147.5 L181.9,149.2"/>
<path d="M181.2,148.2 L183.2,147.5 L184.5,146.9 L185.5,147.5 L183.2,149.2 L182.5,151.5"/>
<path d="M195.0,124.8 L197.0,120.9 L203.6,120.9"/>
<path d="M203.6,120.9 L206.6,115.6 L211.2,118.3 L216.1,118.9 L219.1,117.3 L222.7,115.6 L225.6,115.3 L229.3,115.6 L232.5,115.6"/>
<path d="M217.7,96.5 L219.7,99.5 L219.7,103.8 L223.3,105.4 L225.6,107.7 L229.3,111.0 L232.5,115.6"/>
<path d="M219.7,99.8 L225.0,98.5 L229.6,101.1 L233.9,100.8 L237.8,100.8 L239.8,99.2 L243.7,100.5 L247.0,97.9 L249.0,93.2 L251.6,92.3 L253.9,99.5 L254.6,101.1"/>
<path d="M254.6,101.1 L257.2,96.5 L260.5,90.9 L262.5,85.4"/>
<path d="M262.5,85.4 L263.8,77.8 L267.4,74.5 L269.4,73.2"/>
<path d="M262.5,85.4 L267.1,83.4 L269.1,85.0 L271.7,84.4 L274.0,85.0 L279.6,89.3 L281.9,91.3"/>
<path d="M281.9,91.3 L279.9,93.9 L279.6,95.9 L283.5,96.2"/>
<path d="M283.5,96.2 L284.7,94.7"/>
<path d="M283.5,96.2 L286.2,101.5 L287.2,102.8 L293.7,106.1 L300.3,106.1 L290.5,116.0 L287.2,116.3 L283.2,118.6 L280.6,118.6"/>
<path d="M280.6,118.6 L277.3,119.2 L273.3,121.2 L268.7,120.6 L263.5,117.9 L260.5,117.3"/>
<path d="M260.5,117.3 L258.5,114.3 L256.6,110.7 L252.0,104.8 L254.6,101.1"/>
<path d="M280.6,118.6 L277.3,122.5 L277.3,135.4 L279.3,138.0"/>
<path d="M254.3,118.6 L257.6,126.1 L256.2,128.8 L254.3,132.4 L254.3,135.7"/>
<path d="M254.3,135.7 L266.1,142.3 L271.4,147.9"/>
<path d="M260.5,117.3 L254.3,118.6"/>
<path d="M254.3,118.6 L251.0,119.9 L246.0,120.6 L243.7,120.9"/>
<path d="M243.7,120.9 L244.4,124.8 L241.1,128.5 L239.8,134.0 L239.8,137.0"/>
<path d="M239.8,137.0 L242.7,135.9 L247.0,135.7 L254.3,135.7"/>
<path d="M232.5,115.6 L235.5,118.3 L240.1,117.3 L243.7,120.9"/>
<path d="M239.8,137.0 L237.8,141.3 L242.7,140.3 L242.7,135.9"/>
<path d="M237.8,141.3 L238.5,143.3 L239.1,146.9 L244.1,143.9 L242.7,140.3"/>
<path d="M239.1,146.9 L242.7,155.4 L243.7,159.7"/>
<path d="M243.7,159.7 L250.6,163.3"/>
<path d="M250.6,163.3 L254.3,163.7 L256.2,170.2"/>
<path d="M256.2,170.2 L260.2,169.6 L265.8,170.6 L269.1,169.6 L275.3,166.6"/>
<path d="M182.5,151.5 L185.2,151.8 L196.0,151.8 L197.0,155.4 L200.0,158.7 L204.9,158.7 L206.2,156.1 L209.2,155.4 L214.1,156.4 L214.1,163.7 L215.8,168.6 L221.0,168.3 L221.4,169.2"/>
<path d="M221.4,169.2 L221.4,175.2 L214.8,175.2 L214.8,185.7 L218.7,190.0"/>
<path d="M221.4,169.2 L225.6,169.2 L229.6,171.9 L231.9,170.6 L235.8,173.9 L237.8,176.5 L240.4,176.5 L239.8,172.5 L235.8,170.2 L236.8,160.4 L243.7,159.7"/>
<path d="M181.2,189.3 L186.8,188.3 L189.1,189.6 L203.3,189.6 L211.5,191.6 L218.7,190.0"/>
<path d="M218.7,191.3 L211.5,192.6 L211.5,204.8 L208.2,204.8 L208.2,214.0"/>
<path d="M208.2,214.0 L208.2,225.8 L204.9,227.5 L202.3,227.5 L199.6,226.8 L196.7,226.5"/>
<path d="M218.7,190.0 L225.6,191.0"/>
<path d="M225.6,191.0 L227.9,193.9 L232.2,199.8 L234.5,203.5 L239.1,205.4"/>
<path d="M239.1,205.4 L231.2,210.7 L227.9,213.3 L224.7,217.0 L218.1,215.6 L210.8,220.6 L208.2,214.0"/>
<path d="M225.6,191.0 L231.2,191.0 L236.2,186.7 L242.4,183.7"/>
<path d="M242.4,183.7 L241.8,180.8 L251.6,178.5"/>
<path d="M251.6,178.5 L250.0,177.1 L251.0,173.9 L252.0,168.6 L250.6,163.3"/>
<path d="M251.6,178.5 L255.9,180.4 L256.2,182.7 L258.5,188.0 L258.2,188.7 L260.2,185.0 L260.2,180.8 L257.6,179.8 L256.2,175.2 L256.2,170.2"/>
<path d="M242.4,183.7 L250.6,187.3 L250.0,193.3 L251.0,197.9 L249.3,201.8 L245.4,206.1"/>
<path d="M239.1,205.4 L245.4,206.1"/>
<path d="M245.4,206.1 L247.7,213.0 L247.4,217.6 L248.0,220.6 L250.6,220.7"/>
<path d="M231.2,229.8 L233.5,227.5 L236.5,226.5 L239.1,228.5 L238.5,231.1 L235.8,232.7 L232.9,233.1 L231.2,229.8"/>
<path d="M247.4,217.6 L245.4,217.3 L243.7,220.6 L244.4,221.9 L246.4,222.2 L248.0,220.6"/>
<path d="M87.5,91.8 L91.4,91.6 L97.3,90.8"/>
<path d="M97.3,90.8 L101.3,91.6 L104.9,91.6"/>
<path d="M87.1,87.7 L93.1,87.0 L96.3,87.0 L97.0,88.0 L96.3,88.6 L91.4,89.0 L87.5,89.3"/>
<path d="M97.3,90.8 L97.3,92.9 L96.0,93.9 L93.1,96.5"/>
<path d="M98.6,102.6 L101.3,99.8 L105.6,99.5 L107.5,101.8 L107.9,104.8"/>
<path d="M107.9,104.8 L111.1,108.1 L114.4,107.4 L115.4,107.4"/>
<path d="M107.9,104.8 L105.6,107.7 L104.6,109.7"/>
<path d="M115.4,107.4 L115.4,104.4 L116.4,104.4 L116.1,98.8"/>
<path d="M115.4,107.4 L114.4,111.0 L117.4,113.6 L117.7,117.9"/>
<path d="M260.8,11.0 L263.1,11.3 L264.1,11.7 L267.4,11.3 L270.7,11.7 L274.0,10.7 L277.3,10.3 L281.6,10.3"/>
<path d="M260.5,18.6 L262.2,18.6 L262.8,19.9 L260.2,22.8 L257.9,23.5"/>
<path d="M259.5,22.8 L260.2,24.8 L259.5,24.8 L259.2,28.8 L258.9,30.7 L257.6,35.3"/>
<path d="M260.2,24.8 L263.5,26.1 L270.1,22.5"/>
<path d="M270.1,22.5 L277.3,19.2 L277.9,17.2 L278.6,14.0 L281.6,10.3"/>
<path d="M257.6,35.7 L260.8,36.3 L262.5,35.3 L265.8,33.7 L267.4,32.1 L264.1,28.8 L270.7,27.1 L271.7,26.5"/>
<path d="M270.1,22.5 L271.7,26.5"/>
<path d="M271.7,26.5 L277.3,30.4 L280.9,33.7 L289.5,36.3 L295.4,36.7"/>
<path d="M295.4,36.7 L299.3,33.4 L300.3,33.9"/>
<path d="M295.4,36.7 L301.6,38.6"/>
<path d="M300.3,33.9 L302.0,32.4 L299.3,30.4 L299.3,27.1 L293.7,23.8 L291.8,20.9 L292.1,17.2 L294.1,14.9 L291.8,14.0 L289.8,10.0"/>
<path d="M281.6,10.3 L283.9,9.7 L288.1,10.0 L289.8,10.0"/>
<path d="M289.8,10.0 L288.5,6.4 L287.2,2.8 L289.8,1.8"/>
<path d="M289.8,1.8 L292.1,4.1 L295.4,4.4 L300.0,2.1 L301.6,3.4 L300.3,4.7 L303.3,6.1"/>
<path d="M283.2,78.4 L284.5,75.5 L288.8,75.2 L295.1,75.8 L297.0,76.8 L300.3,73.2 L303.9,71.2 L313.5,69.9"/>
<path d="M313.5,69.9 L317.1,77.5"/>
<path d="M313.5,69.9 L323.4,66.6 L325.7,57.7"/>
<path d="M325.7,57.7 L324.0,57.7 L313.5,56.7 L312.2,52.5"/>
<path d="M325.7,57.7 L326.0,52.8 L328.0,50.5 L327.6,48.2"/>
<path d="M309.5,50.8 L310.8,51.5"/>
<path d="M343.7,12.0 L342.4,18.9 L342.8,22.2 L341.8,23.2 L343.1,29.1 L345.7,30.4 L345.4,31.1 L342.8,34.0"/>
<path d="M342.8,34.0 L345.1,37.0 L348.0,39.3 L350.3,42.9 L349.0,44.9 L345.7,46.2 L345.1,49.5"/>
<path d="M342.8,34.0 L348.0,35.7 L353.0,35.3 L360.5,34.0 L361.5,30.4 L366.1,28.1 L370.4,27.4"/>
<path d="M319.7,9.7 L322.7,9.4 L325.0,7.4 L330.9,7.4 L337.2,9.0 L341.1,12.0 L343.7,12.0"/>
<path d="M343.7,12.0 L347.4,16.3 L350.0,14.3 L354.6,13.0 L358.6,8.7 L361.2,9.4 L365.5,10.0 L367.8,9.0"/>
<path d="M361.2,9.4 L359.5,5.7 L354.6,3.1 L349.7,-0.8 L346.4,-4.1"/>
<path d="M366.8,54.4 L371.1,52.5 L376.0,51.8"/>
<path d="M118.1,10.0 L117.7,8.7 L119.4,7.4 L118.4,6.1 L119.4,4.1 L117.7,1.8 L119.7,-0.2 L119.7,-2.5 L122.0,-4.5"/>
<path d="M208.2,1.8 L209.2,0.8 L210.2,0.5 L211.5,-1.2 L211.5,-2.5"/>
<path d="M211.5,-2.5 L217.1,-3.1"/>
<path d="M228.3,-1.5 L229.9,-4.8"/>
</g>
</g>
<g clip-path="url(#cB)">
<g stroke="#222" stroke-width="0.5" stroke-linejoin="round">
<path d="M409.4,87.8 C410.3,86.2 413.3,86.5 415.5,86.1 C417.7,85.7 420.6,85.3 422.5,85.6 C424.4,85.9 425.6,86.9 426.9,87.8 C428.2,88.7 428.4,90.4 430.3,90.8 C432.2,91.2 435.4,90.4 438.2,90.1 C441.0,89.8 444.1,88.9 447.0,88.7 C449.9,88.5 453.1,88.7 455.7,89.1 C458.3,89.5 460.4,90.3 462.7,91.3 C465.0,92.2 468.1,94.0 469.7,94.8 C471.2,95.6 470.4,95.1 472.0,95.9 C473.6,96.7 476.7,98.4 479.0,99.4 C481.3,100.4 484.4,101.0 486.0,102.0 C487.6,103.0 488.3,104.0 488.6,105.5 C488.9,107.0 488.7,109.2 487.7,110.7 C486.7,112.2 484.7,113.6 482.4,114.2 C480.1,114.8 476.2,113.3 473.7,114.2 C471.2,115.1 469.1,118.0 467.6,119.5 C466.2,121.0 466.9,122.7 465.0,123.0 C463.1,123.3 458.4,122.4 456.2,121.2 C454.0,120.0 453.1,117.6 451.9,116.0 C450.7,114.4 451.1,112.6 449.2,111.6 C447.3,110.6 443.5,109.9 440.5,109.9 C437.5,109.9 433.9,111.4 431.2,111.4 C428.5,111.4 426.8,110.4 424.2,109.7 C421.6,109.0 417.5,108.3 415.5,107.1 C413.5,105.9 412.9,104.6 412.0,102.7 C411.1,100.8 410.6,98.2 410.2,95.7 C409.8,93.2 408.5,89.4 409.4,87.8Z" fill="#7b12c3"/>
<path d="M496.4,116.0 C497.1,114.1 497.6,112.8 499.1,111.6 C500.6,110.4 502.4,109.9 505.2,109.0 C508.0,108.1 513.1,105.2 515.7,106.4 C518.3,107.6 519.3,113.2 520.9,116.0 C522.5,118.8 524.4,120.5 525.3,123.0 C526.2,125.5 527.5,129.4 526.2,130.8 C524.9,132.2 520.3,131.8 517.4,131.7 C514.5,131.6 511.3,130.0 508.7,130.0 C506.1,130.0 503.9,131.7 501.7,131.7 C499.5,131.7 496.8,131.4 495.6,130.0 C494.4,128.6 494.6,125.3 494.7,123.0 C494.8,120.7 495.7,117.9 496.4,116.0Z" fill="#9b2aae"/>
<path d="M460.6,137.8 C461.8,136.8 464.5,135.2 466.7,134.3 C468.9,133.4 471.4,133.0 473.7,132.6 C476.0,132.2 478.9,131.5 480.7,132.1 C482.4,132.7 482.8,135.1 484.2,136.1 C485.6,137.1 487.1,137.2 489.4,137.8 C491.7,138.4 495.6,138.7 498.2,139.6 C500.8,140.5 503.3,141.5 505.2,143.1 C507.1,144.7 509.1,146.7 509.5,149.2 C509.9,151.7 508.9,156.0 507.8,157.9 C506.7,159.8 504.8,160.6 502.6,160.6 C500.4,160.6 496.9,158.8 494.7,157.9 C492.5,157.0 491.4,155.0 489.4,155.3 C487.3,155.6 484.6,158.5 482.4,159.7 C480.2,160.9 478.3,162.2 476.3,162.3 C474.3,162.5 471.9,161.9 470.2,160.6 C468.4,159.3 466.8,156.6 465.8,154.4 C464.8,152.2 465.1,149.7 464.1,147.4 C463.1,145.1 460.3,142.1 459.7,140.5 C459.1,138.9 459.4,138.8 460.6,137.8Z" fill="#8418bf"/>
<path d="M533.1,130.8 C533.7,129.1 535.0,127.8 536.6,126.5 C538.2,125.2 540.8,124.0 542.7,123.0 C544.6,122.0 546.1,120.6 548.0,120.3 C549.9,120.0 552.4,120.3 554.1,121.2 C555.9,122.1 557.6,123.8 558.5,125.6 C559.4,127.3 559.6,129.8 559.3,131.7 C559.0,133.6 558.3,135.8 556.7,137.0 C555.1,138.2 551.7,138.6 549.7,138.7 C547.7,138.8 546.5,137.4 544.5,137.8 C542.5,138.2 539.4,141.4 537.5,141.3 C535.6,141.2 533.8,138.8 533.1,137.0 C532.4,135.2 532.5,132.6 533.1,130.8Z" fill="#9b2aae"/>
<path d="M571.6,112.5 C571.6,111.0 574.3,108.5 575.9,106.4 C577.5,104.4 579.2,100.5 581.2,100.2 C583.2,99.9 586.2,102.8 588.2,104.6 C590.2,106.3 592.2,108.5 593.4,110.7 C594.6,112.9 595.2,115.8 595.2,117.7 C595.2,119.6 592.8,120.8 593.4,122.1 C594.0,123.4 597.4,124.0 598.7,125.6 C600.0,127.2 601.0,129.7 601.3,131.7 C601.6,133.7 599.7,136.5 600.4,137.8 C601.1,139.1 603.8,138.7 605.7,139.6 C607.6,140.5 610.6,142.2 611.8,143.1 C613.0,143.9 612.4,143.8 612.7,144.7 C613.0,145.6 613.8,146.8 613.5,148.3 C613.2,149.8 612.0,152.4 610.9,153.6 C609.8,154.8 608.1,154.7 606.9,155.3 C605.7,155.9 605.0,156.8 603.9,157.1 C602.8,157.4 601.6,157.2 600.4,156.9 C599.2,156.6 598.2,156.6 596.9,155.3 C595.6,154.0 593.8,150.9 592.6,149.2 C591.5,147.5 591.6,146.5 590.0,145.0 C588.4,143.5 584.2,141.3 583.0,140.0 C581.8,138.7 583.2,138.4 582.9,137.0 C582.6,135.6 581.1,133.6 581.2,131.7 C581.4,129.8 583.1,127.3 583.8,125.6 C584.5,123.8 585.9,122.5 585.6,121.2 C585.3,119.9 583.7,118.7 582.1,117.7 C580.5,116.7 577.6,116.0 575.9,115.1 C574.1,114.2 571.6,114.0 571.6,112.5Z" fill="#9b2aae"/>
<path d="M557.1,145.5 C557.8,144.4 558.9,142.2 560.4,141.4 C561.9,140.6 564.2,141.0 566.1,140.6 C568.0,140.2 569.6,139.6 571.8,139.0 C574.0,138.4 577.2,137.4 579.2,137.3 C581.2,137.2 582.3,137.4 584.1,138.2 C585.9,139.0 588.4,140.8 589.8,142.2 C591.1,143.5 592.1,144.8 592.2,146.3 C592.3,147.8 591.7,149.8 590.6,151.2 C589.5,152.6 587.1,153.7 585.7,154.5 C584.3,155.3 583.5,155.2 582.4,156.1 C581.3,157.0 579.7,159.2 579.2,160.2 C578.7,161.1 578.4,161.4 579.2,161.8 C580.0,162.2 582.5,161.9 584.1,162.7 C585.7,163.5 587.5,164.9 589.0,166.7 C590.5,168.5 593.0,171.4 593.1,173.3 C593.2,175.2 590.5,176.0 589.8,178.2 C589.1,180.4 589.7,184.5 589.0,186.3 C588.3,188.1 587.3,188.4 585.7,188.8 C584.1,189.2 581.2,189.2 579.2,188.8 C577.2,188.4 575.0,187.4 573.5,186.3 C572.0,185.2 570.9,183.5 570.2,182.2 C569.5,180.8 570.2,179.1 569.4,178.2 C568.6,177.2 566.5,177.5 565.3,176.5 C564.1,175.5 562.5,174.0 562.0,172.4 C561.5,170.8 561.6,168.3 562.0,166.7 C562.4,165.1 564.0,164.0 564.5,162.7 C565.0,161.3 565.8,160.0 565.3,158.6 C564.8,157.2 562.4,155.7 561.2,154.5 C560.0,153.3 558.8,152.3 558.0,151.2 C557.2,150.1 556.4,148.9 556.3,148.0 C556.1,147.1 556.4,146.6 557.1,145.5Z" fill="#1c0a8c"/>
</g>
<g fill="#e4e4e4" stroke="#3a3a3a" stroke-width="0.5" stroke-linejoin="round">
<path d="M314.7,66.0 L341.0,66.0 L354.2,58.8 L359.5,56.0 L362.4,53.3 L364.8,50.7 L366.3,49.8 L366.3,47.7 L367.9,45.7 L369.2,43.6 L370.3,42.1 L371.6,40.9 L372.4,39.0 L372.4,36.9 L370.8,35.7 L369.8,35.4 L372.4,33.8 L372.1,31.9 L370.8,30.7 L369.8,29.7 L369.8,28.5 L369.0,26.3 L368.2,23.1 L366.1,21.8 L365.3,20.8 L366.3,18.8 L367.9,17.9 L369.0,16.9 L370.0,15.9 L371.9,14.9 L374.0,14.6 L374.0,12.9 L371.4,12.6 L369.5,11.5 L368.2,12.2 L366.1,13.6 L364.5,12.9 L363.4,10.9 L361.1,8.8 L361.3,7.1 L363.4,7.1 L365.6,6.1 L366.3,4.4 L368.7,3.0 L370.0,1.2 L372.4,0.9 L373.2,2.6 L371.6,4.7 L371.4,6.8 L370.6,8.2 L371.9,7.8 L373.5,6.1 L375.3,5.4 L376.9,4.7 L378.7,4.4 L379.8,5.4 L381.4,5.8 L380.8,7.5 L380.0,8.8 L379.8,10.5 L381.1,11.5 L382.7,11.5 L383.5,11.9 L384.8,13.6 L385.6,14.6 L384.5,15.9 L384.5,18.2 L384.3,20.8 L384.0,22.1 L385.6,22.4 L387.2,22.1 L388.5,21.5 L390.1,21.1 L391.1,20.5 L391.9,19.5 L392.4,17.5 L392.2,14.9 L391.4,12.6 L390.1,9.9 L389.3,8.5 L388.0,7.1 L387.2,6.1 L387.4,4.7 L389.3,4.0 L391.1,1.9 L393.2,0.5 L393.7,-3.0 L406.9,-8.5 L420.1,-25.6 L314.7,-33.7Z"/>
<path d="M370.0,51.0 L371.6,50.7 L372.4,51.9 L371.6,54.5 L370.8,57.4 L369.8,59.4 L369.2,60.3 L368.2,58.8 L367.7,57.1 L367.9,55.1 L369.2,52.8Z"/>
<path d="M392.7,25.6 L394.3,24.4 L396.1,24.4 L397.7,25.3 L398.5,26.9 L398.8,29.1 L397.4,32.3 L396.4,33.5 L395.6,33.5 L394.3,32.6 L394.5,30.7 L394.0,28.5 L393.2,28.2 L393.0,26.9Z"/>
<path d="M400.1,25.6 L401.4,27.9 L402.7,26.3 L404.8,26.3 L406.1,24.7 L405.9,23.4 L403.8,23.1 L402.2,23.7 L401.4,24.0Z"/>
<path d="M396.1,24.2 L397.4,22.7 L399.5,20.5 L401.4,19.2 L404.0,18.8 L406.7,18.5 L409.0,18.8 L409.8,16.9 L411.7,14.6 L411.7,13.9 L413.0,12.6 L415.6,13.6 L416.4,12.6 L418.0,10.9 L419.0,8.5 L420.1,5.8 L420.1,3.3 L419.8,1.9 L420.9,-0.2 L423.5,-0.9 L424.1,2.3 L425.1,5.1 L424.3,8.2 L422.7,9.9 L422.5,12.2 L422.7,14.6 L421.9,16.5 L422.2,18.5 L421.2,20.5 L419.8,21.1 L419.6,19.8 L418.0,20.5 L416.9,22.1 L415.4,22.1 L412.7,22.1 L411.7,23.1 L410.4,23.4 L409.0,25.6 L407.5,24.7 L407.2,23.1 L408.0,22.1 L405.9,21.8 L403.8,22.4 L401.7,23.1 L399.8,23.4 L398.5,24.2Z"/>
<path d="M369.0,70.2 L370.3,69.9 L372.4,70.8 L373.2,70.2 L373.5,74.1 L374.0,76.3 L371.6,77.7 L371.4,79.9 L371.9,82.1 L372.9,82.7 L374.3,81.9 L375.6,83.2 L377.7,83.2 L378.2,85.7 L377.7,86.5 L375.8,85.4 L374.3,84.9 L372.4,83.5 L370.8,83.8 L369.2,82.1 L369.0,81.3 L369.8,80.5 L368.7,80.8 L367.9,80.5 L367.4,79.1 L366.9,77.2 L368.2,76.6 L368.5,74.1 L368.5,72.7Z"/>
<path d="M368.2,84.1 L370.6,84.3 L371.4,85.4 L370.6,87.3 L369.5,86.8 L368.7,85.4Z"/>
<path d="M378.7,86.5 L381.1,86.8 L382.4,90.3 L380.6,90.6 L378.7,89.2Z"/>
<path d="M378.7,89.5 L380.6,90.3 L381.1,92.8 L380.0,93.3 L378.7,91.1Z"/>
<path d="M372.4,88.4 L374.0,89.2 L375.6,90.3 L374.5,91.9 L372.7,92.2Z"/>
<path d="M375.0,91.1 L376.6,92.2 L376.1,94.9 L375.3,96.3 L373.7,94.1Z"/>
<path d="M377.7,90.0 L378.2,92.2 L376.6,94.9 L376.6,92.8Z"/>
<path d="M377.4,93.3 L379.3,93.6 L378.7,94.6 L377.4,94.4Z"/>
<path d="M372.7,101.6 L373.2,99.2 L375.3,99.0 L377.1,97.3 L378.5,98.4 L380.0,96.3 L381.9,94.1 L383.7,95.5 L384.8,100.3 L383.7,103.2 L381.9,105.4 L381.1,104.0 L378.5,103.2 L377.9,101.1 L376.6,99.5 L375.0,100.3 L373.2,101.9Z"/>
<path d="M366.3,89.8 L365.6,92.5 L363.4,94.9 L360.0,97.9 L360.8,98.1 L364.2,95.5 L366.3,93.0Z"/>
<path d="M396.4,123.5 L397.2,122.4 L399.8,121.4 L403.0,122.2 L404.6,122.7 L404.8,125.6 L405.9,127.2 L406.9,129.1 L408.2,129.3 L410.4,126.4 L412.7,124.6 L414.8,124.6 L417.5,126.2 L420.1,126.7 L422.7,127.2 L425.4,128.6 L429.3,129.6 L432.0,130.7 L435.1,133.1 L435.4,135.0 L439.9,136.8 L440.7,138.2 L439.1,137.9 L438.0,139.0 L439.1,140.3 L441.2,141.6 L442.5,144.1 L444.3,145.1 L446.4,146.2 L448.6,147.6 L447.0,148.7 L445.1,147.8 L441.2,147.3 L439.3,145.7 L437.2,143.5 L434.6,141.4 L432.0,140.6 L430.1,141.6 L429.1,143.8 L427.0,145.1 L424.1,144.9 L422.2,143.3 L419.8,141.9 L416.9,142.7 L414.8,140.6 L417.2,138.4 L416.1,137.6 L414.3,134.2 L410.9,132.5 L407.7,132.0 L404.8,130.7 L401.7,130.9 L401.1,129.1 L399.0,127.8 L401.7,127.0 L403.5,126.4 L401.9,125.9 L399.5,126.2 L398.8,124.6Z"/>
<path d="M458.6,133.9 L460.4,135.2 L462.0,137.6 L460.9,138.7 L459.6,137.1 L458.6,135.0Z"/>
<path d="M366.1,174.6 L368.7,173.8 L370.8,171.8 L372.4,169.8 L373.2,168.7 L374.0,166.2 L376.6,164.3 L377.9,164.3 L379.3,162.0 L381.1,159.8 L383.2,157.9 L385.3,157.4 L387.2,157.9 L388.7,160.1 L389.3,160.7 L391.1,160.4 L392.7,159.3 L393.2,156.8 L394.5,154.9 L395.9,153.5 L397.7,153.0 L400.3,152.5 L400.9,151.1 L403.0,151.9 L405.6,152.5 L408.2,152.5 L409.6,152.7 L411.4,153.0 L410.9,156.0 L409.3,157.4 L408.2,160.1 L410.1,162.0 L412.2,163.4 L415.4,165.6 L418.3,167.3 L421.4,167.9 L423.5,164.8 L424.3,160.7 L424.1,157.1 L424.6,154.9 L425.4,151.1 L426.7,148.9 L427.5,149.7 L428.3,152.2 L429.3,154.6 L429.6,156.8 L431.7,158.5 L434.1,160.7 L434.3,163.4 L435.6,165.9 L436.7,170.4 L438.3,172.4 L441.2,174.0 L443.6,176.0 L445.1,178.3 L447.0,180.3 L448.6,182.6 L449.6,185.5 L452.8,187.8 L454.4,189.9 L454.6,192.0 L455.7,196.4 L455.9,199.7 L455.1,202.5 L454.4,207.1 L453.0,211.2 L451.2,213.4 L449.6,216.2 L448.8,218.5 L447.2,221.4 L446.4,224.7 L446.2,228.0 L443.8,229.1 L441.2,229.4 L439.1,230.7 L437.0,233.5 L434.6,231.8 L433.0,231.1 L432.0,230.4 L429.3,232.4 L426.4,231.1 L424.1,231.1 L421.7,229.7 L419.6,227.4 L419.0,224.7 L417.2,221.8 L415.1,222.1 L416.1,219.5 L415.1,217.2 L414.3,219.8 L411.9,220.8 L413.2,217.5 L414.0,213.7 L412.7,215.3 L410.9,218.2 L409.3,219.5 L407.5,217.5 L405.1,214.0 L403.2,210.9 L400.3,210.2 L396.6,208.7 L391.1,209.3 L385.8,211.2 L380.6,213.4 L376.9,216.2 L372.7,216.6 L367.4,216.6 L366.1,217.9 L354.2,216.6 L341.0,204.0 L341.0,174.6Z"/>
<path d="M432.2,239.0 L434.6,239.7 L437.5,240.4 L442.0,239.7 L442.0,243.6 L441.2,247.2 L439.3,248.3 L438.0,249.4 L435.9,249.1 L434.1,245.8 L432.5,241.8Z"/>
<path d="M440.7,235.5 L442.0,236.2 L441.7,237.6 L440.7,237.3Z"/>
<path d="M430.4,235.2 L430.9,235.5 L430.6,236.9 L430.1,236.2Z"/>
<path d="M506.3,217.9 L507.1,218.2 L508.4,219.8 L510.5,221.4 L511.8,224.7 L513.6,224.7 L514.7,227.4 L517.1,229.1 L519.7,228.4 L521.5,228.7 L520.2,231.8 L518.4,233.8 L517.3,235.2 L516.8,237.3 L515.0,240.1 L513.1,242.2 L511.8,241.1 L512.6,239.0 L511.0,236.2 L509.2,233.8 L511.3,232.1 L511.8,229.1 L511.0,226.4 L510.2,224.4 L508.1,221.1Z"/>
<path d="M506.3,238.3 L507.6,240.1 L509.7,240.1 L510.5,242.6 L509.2,245.1 L507.1,247.6 L506.5,250.2 L503.1,251.6 L502.3,254.3 L501.0,258.0 L498.6,260.3 L495.2,260.7 L492.6,259.2 L489.9,257.7 L490.7,254.6 L493.4,252.8 L495.2,250.5 L499.1,247.6 L502.3,244.7 L503.4,242.2 L504.7,239.4Z"/>
<path d="M492.6,261.5 L494.4,261.9 L493.9,263.1 L492.8,263.1Z"/>
<path d="M482.3,174.9 L484.4,175.5 L487.0,177.5 L489.9,179.7 L491.2,181.2 L489.9,181.5 L487.3,179.7 L484.7,177.5 L483.3,176.0Z"/>
<path d="M518.4,167.6 L520.2,167.3 L522.1,168.4 L521.5,169.5 L520.0,169.8 L518.4,169.3Z"/>
<path d="M521.5,165.6 L524.2,164.5 L525.5,164.0 L525.0,165.4 L522.9,165.9Z"/>
<path d="M672.3,-3.0 L672.0,2.6 L673.6,5.8 L675.7,9.9 L677.0,11.5 L677.3,13.6 L678.6,15.6 L679.6,17.9 L683.6,24.0 L696.8,24.0 L696.8,-3.0Z"/>
<path d="M589.0,65.4 L591.1,66.3 L591.9,67.4 L589.8,69.1 L588.7,67.7Z"/>
<path d="M586.9,63.4 L588.7,64.0 L587.7,64.3Z"/>
<path d="M582.7,61.4 L584.3,62.3 L583.2,62.3Z"/>
<path d="M579.0,59.7 L580.0,60.0 L579.5,60.6Z"/>
</g>
<g fill="#fff" stroke="#333" stroke-width="0.55" stroke-linejoin="round">
<path d="M365.6,106.7 L362.4,104.8 L359.5,101.6 L356.9,104.3 L354.2,109.7 L354.2,120.3 L360.8,119.0 L361.9,117.4 L364.5,117.6 L362.1,115.0 L361.6,112.3 L362.7,108.9 L363.7,108.3Z"/>
<path d="M364.2,127.2 L365.6,129.6 L366.1,134.7 L368.5,135.2 L368.5,128.3 L369.8,127.2 L370.3,132.3 L374.3,135.2 L374.8,132.3 L372.7,128.8 L376.1,123.0 L373.5,122.4 L371.6,122.7 L370.0,124.0 L369.0,123.0 L369.0,119.0 L375.3,119.0 L379.3,118.7 L381.1,116.0 L380.3,116.0 L377.9,117.9 L375.3,117.9 L369.8,116.8 L367.9,118.2 L366.6,120.3 L366.3,122.7 L365.6,123.8Z"/>
<path d="M366.9,143.0 L370.0,142.7 L373.5,141.9 L375.0,142.2 L374.8,143.5 L371.4,144.1 L368.7,143.8 L367.1,143.8Z"/>
<path d="M364.8,145.4 L368.2,146.0 L369.5,147.6 L367.4,147.8 L365.3,146.5Z"/>
<path d="M359.0,142.7 L361.6,141.9 L364.2,142.2 L365.3,143.0 L364.2,143.8 L360.8,144.3 L359.0,144.1Z"/>
<path d="M376.6,147.8 L379.0,145.7 L381.1,144.3 L384.0,143.0 L386.6,142.7 L385.6,143.8 L382.7,144.6 L380.3,146.5 L377.9,147.8Z"/>
<path d="M387.4,114.4 L388.5,116.3 L390.3,116.0 L389.0,117.6 L390.9,119.5 L389.0,119.2 L389.8,122.2 L388.2,121.4 L387.7,119.0 L386.9,117.9Z"/>
<path d="M388.5,129.1 L392.4,127.8 L395.9,128.6 L395.3,129.6 L392.4,129.3 L389.5,129.6Z"/>
<path d="M383.2,128.8 L385.3,128.3 L386.4,129.6 L384.5,130.4 L383.2,129.9Z"/>
<path d="M442.0,135.0 L445.1,134.4 L447.2,135.0 L449.1,133.6 L450.7,133.3 L451.7,131.5 L452.8,131.7 L452.0,133.6 L450.4,135.2 L448.6,137.1 L445.1,136.8 L442.5,136.0Z"/>
<path d="M448.3,127.2 L450.4,128.3 L452.8,130.4 L454.6,132.3 L453.8,133.1 L452.2,130.9 L449.6,129.1 L448.3,127.8Z"/>
</g>
<path d="M422.7,127.2 L422.7,138.7 L422.5,139.8 L422.7,144.9" fill="none" stroke="#3a3a3a" stroke-width="0.45"/>
<g fill="#111" stroke="#111" stroke-width="0.5" stroke-linejoin="round">
<path d="M464.3,141.4 L466.5,141.0 L469.2,142.6 L468.6,143.4 L466,142.8Z"/>
<path d="M467.5,140.2 L470.5,140.4 L473,141.8 L472.4,142.4 L469.5,141.6Z"/>
<path d="M473.8,141.6 L475.6,142.2 L478.4,146.0 L477.4,146.6 L474.6,143.6Z"/>
<path d="M477.6,147.0 L479.6,147.6 L480.4,149.6 L479.2,149.6Z"/>
<path d="M473.0,149.6 L475.4,150.0 L475.6,151.0 L473.4,150.6Z"/>
<path d="M470.4,146.0 L472.0,146.4 L471.8,147.4 L470.4,147.0Z"/>
</g>
<g fill="none" stroke="#2a2a2a" stroke-width="0.55">
<ellipse cx="573.2" cy="57.1" rx="0.5" ry="0.5"/>
<ellipse cx="565.8" cy="55.7" rx="0.5" ry="0.5"/>
<ellipse cx="561.9" cy="55.1" rx="0.5" ry="0.5"/>
<ellipse cx="547.4" cy="49.2" rx="0.5" ry="0.5"/>
<ellipse cx="541.3" cy="48.6" rx="0.5" ry="0.5"/>
<ellipse cx="536.6" cy="43.3" rx="0.5" ry="0.5"/>
<ellipse cx="532.4" cy="42.1" rx="0.5" ry="0.5"/>
<ellipse cx="530.0" cy="41.5" rx="0.5" ry="0.5"/>
<ellipse cx="553.2" cy="75.2" rx="0.5" ry="0.5"/>
<ellipse cx="393.5" cy="37.8" rx="0.5" ry="0.5"/>
<ellipse cx="390.1" cy="44.5" rx="0.5" ry="0.5"/>
<ellipse cx="385.3" cy="47.7" rx="0.5" ry="0.5"/>
<ellipse cx="377.4" cy="53.6" rx="0.5" ry="0.5"/>
<ellipse cx="375.3" cy="53.2" rx="0.5" ry="0.5"/>
<ellipse cx="393.0" cy="39.9" rx="0.5" ry="0.5"/>
<ellipse cx="395.3" cy="35.4" rx="0.5" ry="0.5"/>
<ellipse cx="418.5" cy="21.6" rx="0.5" ry="0.5"/>
<ellipse cx="418.8" cy="23.7" rx="0.5" ry="0.5"/>
<ellipse cx="419.6" cy="26.9" rx="0.5" ry="0.5"/>
<ellipse cx="419.6" cy="28.8" rx="0.5" ry="0.5"/>
<ellipse cx="420.9" cy="35.0" rx="0.5" ry="0.5"/>
<ellipse cx="420.4" cy="37.2" rx="0.5" ry="0.5"/>
<ellipse cx="425.6" cy="43.6" rx="0.5" ry="0.5"/>
<ellipse cx="435.1" cy="79.4" rx="0.5" ry="0.5"/>
<ellipse cx="434.9" cy="79.9" rx="0.5" ry="0.5"/>
<ellipse cx="433.8" cy="82.3" rx="0.5" ry="0.5"/>
<ellipse cx="432.7" cy="84.2" rx="0.5" ry="0.5"/>
<ellipse cx="435.1" cy="76.2" rx="0.5" ry="0.5"/>
<ellipse cx="435.4" cy="71.3" rx="0.5" ry="0.5"/>
<ellipse cx="435.0" cy="69.5" rx="0.5" ry="0.5"/>
<ellipse cx="434.3" cy="66.8" rx="0.5" ry="0.5"/>
<ellipse cx="433.8" cy="66.0" rx="0.5" ry="0.5"/>
<ellipse cx="433.0" cy="64.6" rx="0.5" ry="0.5"/>
<ellipse cx="425.9" cy="45.4" rx="0.5" ry="0.5"/>
<ellipse cx="425.8" cy="46.7" rx="0.5" ry="0.5"/>
<ellipse cx="423.5" cy="52.2" rx="0.5" ry="0.5"/>
<ellipse cx="456.9" cy="53.6" rx="0.5" ry="0.5"/>
<ellipse cx="490.2" cy="68.0" rx="0.5" ry="0.5"/>
<ellipse cx="491.0" cy="160.9" rx="0.9" ry="1.4"/>
<ellipse cx="492.6" cy="164.0" rx="0.8" ry="0.9"/>
<ellipse cx="494.9" cy="168.0" rx="0.5" ry="0.5"/>
<ellipse cx="496.5" cy="171.2" rx="0.5" ry="0.5"/>
<ellipse cx="497.3" cy="173.2" rx="0.5" ry="0.5"/>
<ellipse cx="493.9" cy="177.5" rx="0.8" ry="0.6"/>
<ellipse cx="492.0" cy="178.9" rx="0.8" ry="0.5"/>
<ellipse cx="438.3" cy="125.9" rx="1.1" ry="0.5"/>
<ellipse cx="388.2" cy="47.2" rx="0.7" ry="1.0"/>
<ellipse cx="392.4" cy="41.8" rx="0.5" ry="0.6"/>
<ellipse cx="378.2" cy="53.3" rx="0.8" ry="0.5"/>
<ellipse cx="381.4" cy="52.2" rx="0.5" ry="0.5"/>
<ellipse cx="395.1" cy="35.4" rx="0.5" ry="0.5"/>
<ellipse cx="396.4" cy="34.7" rx="0.5" ry="0.7"/>
<ellipse cx="397.4" cy="140.6" rx="0.7" ry="1.4"/>
<ellipse cx="405.6" cy="136.8" rx="0.8" ry="1.7"/>
<ellipse cx="401.1" cy="135.2" rx="0.5" ry="1.2"/>
<ellipse cx="405.6" cy="100.3" rx="0.5" ry="0.9"/>
<ellipse cx="432.7" cy="84.2" rx="0.5" ry="0.5"/>
<ellipse cx="435.1" cy="79.4" rx="0.5" ry="0.5"/>
<ellipse cx="546.3" cy="156.8" rx="1.1" ry="0.6"/>
<ellipse cx="547.4" cy="157.6" rx="0.8" ry="0.5"/>
<ellipse cx="538.1" cy="178.0" rx="0.5" ry="0.5"/>
<ellipse cx="534.7" cy="250.9" rx="0.8" ry="0.5"/>
<ellipse cx="552.1" cy="171.9" rx="0.5" ry="0.5"/>
<ellipse cx="578.7" cy="178.0" rx="0.5" ry="0.5"/>
<ellipse cx="451.2" cy="100.6" rx="0.5" ry="0.5"/>
<ellipse cx="468.1" cy="101.9" rx="0.5" ry="0.5"/>
<ellipse cx="480.7" cy="106.2" rx="0.5" ry="0.5"/>
<ellipse cx="502.3" cy="101.4" rx="0.5" ry="0.5"/>
<ellipse cx="507.1" cy="116.6" rx="0.5" ry="0.5"/>
<ellipse cx="507.1" cy="115.5" rx="0.5" ry="0.5"/>
<ellipse cx="376.1" cy="148.9" rx="0.5" ry="0.5"/>
<ellipse cx="379.5" cy="142.5" rx="0.8" ry="0.5"/>
<ellipse cx="383.2" cy="141.1" rx="0.8" ry="0.5"/>
<ellipse cx="382.9" cy="125.6" rx="0.8" ry="0.5"/>
<ellipse cx="387.4" cy="124.3" rx="1.1" ry="0.5"/>
<ellipse cx="372.1" cy="125.4" rx="0.5" ry="0.5"/>
<ellipse cx="375.8" cy="124.3" rx="1.1" ry="0.9"/>
<ellipse cx="393.2" cy="141.9" rx="0.5" ry="0.5"/>
<ellipse cx="372.7" cy="133.6" rx="0.5" ry="0.6"/>
<ellipse cx="376.9" cy="148.7" rx="0.5" ry="0.5"/>
<ellipse cx="366.1" cy="133.6" rx="0.5" ry="0.5"/>
<ellipse cx="370.0" cy="148.4" rx="0.5" ry="0.5"/>
<ellipse cx="585.1" cy="115.2" rx="0.5" ry="0.5"/>
<ellipse cx="579.8" cy="109.9" rx="0.5" ry="0.5"/>
<ellipse cx="577.1" cy="104.6" rx="0.5" ry="0.5"/>
<ellipse cx="547.1" cy="127.8" rx="0.5" ry="0.5"/>
<ellipse cx="540.0" cy="132.8" rx="0.5" ry="0.5"/>
<ellipse cx="589.0" cy="130.9" rx="0.5" ry="0.5"/>
<ellipse cx="597.2" cy="147.0" rx="0.5" ry="0.5"/>
<ellipse cx="599.8" cy="150.8" rx="0.5" ry="0.5"/>
<ellipse cx="578.7" cy="178.0" rx="0.5" ry="0.5"/>
<ellipse cx="583.7" cy="180.0" rx="0.5" ry="0.5"/>
<ellipse cx="585.3" cy="174.6" rx="0.5" ry="0.5"/>
<ellipse cx="562.9" cy="149.5" rx="0.5" ry="0.5"/>
<ellipse cx="575.6" cy="148.1" rx="0.5" ry="0.5"/>
<ellipse cx="569.8" cy="169.0" rx="0.5" ry="0.5"/>
<ellipse cx="583.2" cy="144.3" rx="0.5" ry="0.5"/>
<ellipse cx="573.2" cy="147.0" rx="0.5" ry="0.5"/>
</g>
<g class="lbl">
<text x="437.0" y="86.2">(Micronesia)</text>
<text x="534.8" y="116.8">Kiribati</text>
<text x="446.4" y="168.4">(Solomon Is.)</text>
<text x="562.6" y="197.0">(Cook Is.)</text>
</g>
</g>
<g fill="#1a1a1a" stroke="#1a1a1a" stroke-width="0.4">
<path d="M61.6,83.2 L63.2,82.6 L64.2,83.4 L65.6,82.8 L65.2,84.0 L63.6,84.3 L62.2,84.0Z"/>
<path d="M87.2,92.6 L89.5,92.0 L91.8,92.8 L92.6,94.6 L91.0,96.0 L89.0,95.6 L87.6,94.4Z"/>
<path d="M86.5,87.6 L89.5,86.8 L93.5,87.4 L97,87.0 L97,88.0 L93.5,88.6 L90,88.6 L87,89.2Z"/>
</g>
<g class="lbl">
<text x="110.4" y="38.0">(Morocco)</text>
<text x="102.4" y="72.6">Mauritania</text>
<text x="125.8" y="84.6">(Senegal)</text>
<text x="126.6" y="94.8">Gambia</text>
<text x="91.0" y="101.6">Guinea</text>
<text x="116.2" y="107.8">(Cote d'Ivoire)</text>
<text x="50.4" y="113.0">G-Bissau</text>
<text x="141.6" y="119.2">(Sao Tome &amp; P.)</text>
<text x="81.6" y="135.4">(Liberia)</text>
<text x="183.4" y="138.6">Gabon</text>
<text x="111.0" y="157.0">(Eq. Guinea)</text>
<text x="186.8" y="176.6">Angola</text>
<text x="305.0" y="149.2">Seychelles</text>
<text x="268.0" y="175.2">Comores</text>
<text x="201.4" y="209.8">(Mozambique)</text>
<text x="326.0" y="199.0">Mauritius</text>
<text x="272.0" y="222.3">Madagascar</text>
<text x="62.6" y="71.8" text-anchor="middle">C.</text>
<text x="63.3" y="80.3" text-anchor="middle">Verde</text>
</g>
<linearGradient id="plasma" x1="0" y1="1" x2="0" y2="0">
<stop offset="0" stop-color="#e8f23a"/><stop offset="0.1" stop-color="#ecca40"/><stop offset="0.2" stop-color="#eba446"/><stop offset="0.3" stop-color="#e5735a"/><stop offset="0.43" stop-color="#d0557a"/><stop offset="0.565" stop-color="#b53c98"/><stop offset="0.7" stop-color="#8e22ad"/><stop offset="0.84" stop-color="#5a10b0"/><stop offset="1" stop-color="#1e0a8c"/></linearGradient>
<text x="56.0" y="177.2" font-weight="bold" font-size="11.1" fill="#000">Inception year</text>
<rect x="56.4" y="187.4" width="27.6" height="68.3" fill="url(#plasma)"/>
<line x1="56.4" y1="198.1" x2="62" y2="198.1" stroke="#fff" stroke-width="0.6" opacity="0.8"/>
<line x1="78.4" y1="198.1" x2="84" y2="198.1" stroke="#fff" stroke-width="0.6" opacity="0.8"/>
<text x="92.5" y="201.5" font-size="9.3" fill="#1a1a1a">2010</text>
<line x1="56.4" y1="217.1" x2="62" y2="217.1" stroke="#fff" stroke-width="0.6" opacity="0.8"/>
<line x1="78.4" y1="217.1" x2="84" y2="217.1" stroke="#fff" stroke-width="0.6" opacity="0.8"/>
<text x="92.5" y="220.5" font-size="9.3" fill="#1a1a1a">2000</text>
<line x1="56.4" y1="235.5" x2="62" y2="235.5" stroke="#fff" stroke-width="0.6" opacity="0.8"/>
<line x1="78.4" y1="235.5" x2="84" y2="235.5" stroke="#fff" stroke-width="0.6" opacity="0.8"/>
<text x="92.5" y="238.9" font-size="9.3" fill="#1a1a1a">1990</text>
<line x1="56.4" y1="253.6" x2="62" y2="253.6" stroke="#fff" stroke-width="0.6" opacity="0.8"/>
<line x1="78.4" y1="253.6" x2="84" y2="253.6" stroke="#fff" stroke-width="0.6" opacity="0.8"/>
<text x="92.5" y="257.0" font-size="9.3" fill="#1a1a1a">1980</text>
<rect x="46.5" y="1" width="637" height="263.3" fill="none" stroke="#555" stroke-width="1.3"/>
<line x1="365.2" y1="1" x2="365.2" y2="264.3" stroke="#444" stroke-width="1.3"/>
<text x="55" y="27.8" font-family="Liberation Sans" font-weight="bold" font-size="23" fill="#000">A</text>
<text x="374" y="27.6" font-family="Liberation Sans" font-weight="bold" font-size="23" fill="#000">B</text>
<g>
<line x1="46.5" y1="307" x2="46.5" y2="412.9" stroke="#333" stroke-width="1"/>
<line x1="42" y1="412.4" x2="685" y2="412.4" stroke="#333" stroke-width="1"/>
<line x1="42" y1="412.4" x2="46.5" y2="412.4" stroke="#333" stroke-width="1"/>
<text x="38.2" y="415.6" text-anchor="end" font-size="8.8" fill="#333">0</text>
<line x1="42" y1="379.4" x2="46.5" y2="379.4" stroke="#333" stroke-width="1"/>
<text x="38.2" y="382.6" text-anchor="end" font-size="8.8" fill="#333">5</text>
<line x1="42" y1="346.4" x2="46.5" y2="346.4" stroke="#333" stroke-width="1"/>
<text x="38.2" y="349.6" text-anchor="end" font-size="8.8" fill="#333">10</text>
<line x1="42" y1="313.4" x2="46.5" y2="313.4" stroke="#333" stroke-width="1"/>
<text x="38.2" y="316.6" text-anchor="end" font-size="8.8" fill="#333">15</text>
<line x1="54.3" y1="412.4" x2="54.3" y2="416.6" stroke="#333" stroke-width="1"/>
<text x="54.3" y="427.2" text-anchor="middle" font-size="8.8" fill="#333">1980</text>
<line x1="194.1" y1="412.4" x2="194.1" y2="416.6" stroke="#333" stroke-width="1"/>
<text x="194.1" y="427.2" text-anchor="middle" font-size="8.8" fill="#333">1990</text>
<line x1="333.9" y1="412.4" x2="333.9" y2="416.6" stroke="#333" stroke-width="1"/>
<text x="333.9" y="427.2" text-anchor="middle" font-size="8.8" fill="#333">2000</text>
<line x1="473.7" y1="412.4" x2="473.7" y2="416.6" stroke="#333" stroke-width="1"/>
<text x="473.7" y="427.2" text-anchor="middle" font-size="8.8" fill="#333">2010</text>
<line x1="613.5" y1="412.4" x2="613.5" y2="416.6" stroke="#333" stroke-width="1"/>
<text x="613.5" y="427.2" text-anchor="middle" font-size="8.8" fill="#333">2020</text>
<path d="M46.5,405.8H56.5V399.2H80.2V405.8H80.6V399.2H87.4V405.8H90.1V399.2H96.4V405.8H96.8V399.2H98.7V392.6H105.3V386.0H123.1V379.4H140.6V386.0H141.0V379.4H143.3V372.8H143.7V379.4H148.5V372.8H149.5V379.4H152.3V372.8H152.6V366.2H156.5V359.6H157.4V353.0H159.0V339.8H168.4V333.2H173.6V326.6H188.5V333.2H194.2V326.6H200.9V333.2H201.9V326.6H206.4V320.0H207.9V313.4H217.3V306.8H226.4V313.4H228.5V320.0H232.5V313.4H246.4V320.0H250.0V326.6H257.0V313.4H268.5V320.0H276.4V313.4H284.8V320.0H289.7V326.6H296.6V320.0H299.5V326.6H308.4V320.0H318.7V313.4H332.4V320.0H343.3V326.6H361.6V333.2H368.8V326.6H385.5V320.0H389.5V313.4H398.2V320.0H410.7V326.6H424.5V333.2H427.3V326.6H428.5V320.0H434.0V306.8H444.5V313.4H475.8V320.0H479.5V326.6H492.4V320.0H500.5V326.6H501.6V339.8H502.5V333.2H508.2V339.8H509.7V346.4H512.7V353.0H515.2V346.4H515.8V353.0H523.6V346.4H530.5V339.8H534.7V346.4H535.1V339.8H537.3V333.2H539.0V339.8H542.0V346.4H542.4V339.8H543.4V333.2H544.6V339.8H550.3V333.2H553.3V339.8H556.0V333.2H557.0V326.6H565.5V333.2H568.8V326.6H571.5V333.2H572.4V339.8H584.5V333.2H591.6V339.8H592.4V346.4H593.2V353.0H593.6V346.4H599.1V359.6H605.2V353.0H607.3V346.4H607.8V339.8H613.6V333.2H614.0V339.8H614.5V333.2H615.0V339.8H615.5V333.2H626.4V339.8H634.4V333.2H639.6V339.8H640.5V346.4H640.9V339.8H643.2V333.2H652.3V339.8H655.3V333.2H663.0V326.6H663.4V333.2H666.2V326.6H674.7V333.2H675.9V339.8H676.8V333.2H677.7V339.8H680.2V333.2H682.0V339.8H683.2V353.0H683.8V353.0" fill="none" stroke="#1a1a1a" stroke-width="0.9"/>
<text x="57.3" y="317.6" font-weight="bold" font-size="23.5" fill="#000">C</text>
<text transform="translate(9.9,359.6) rotate(-90)" text-anchor="middle" font-weight="bold" font-size="11.4" fill="#000">Number of active</text>
<text transform="translate(21.5,359.6) rotate(-90)" text-anchor="middle" font-weight="bold" font-size="11.4" fill="#000">agreements</text>
</g>
</svg></body></html>
